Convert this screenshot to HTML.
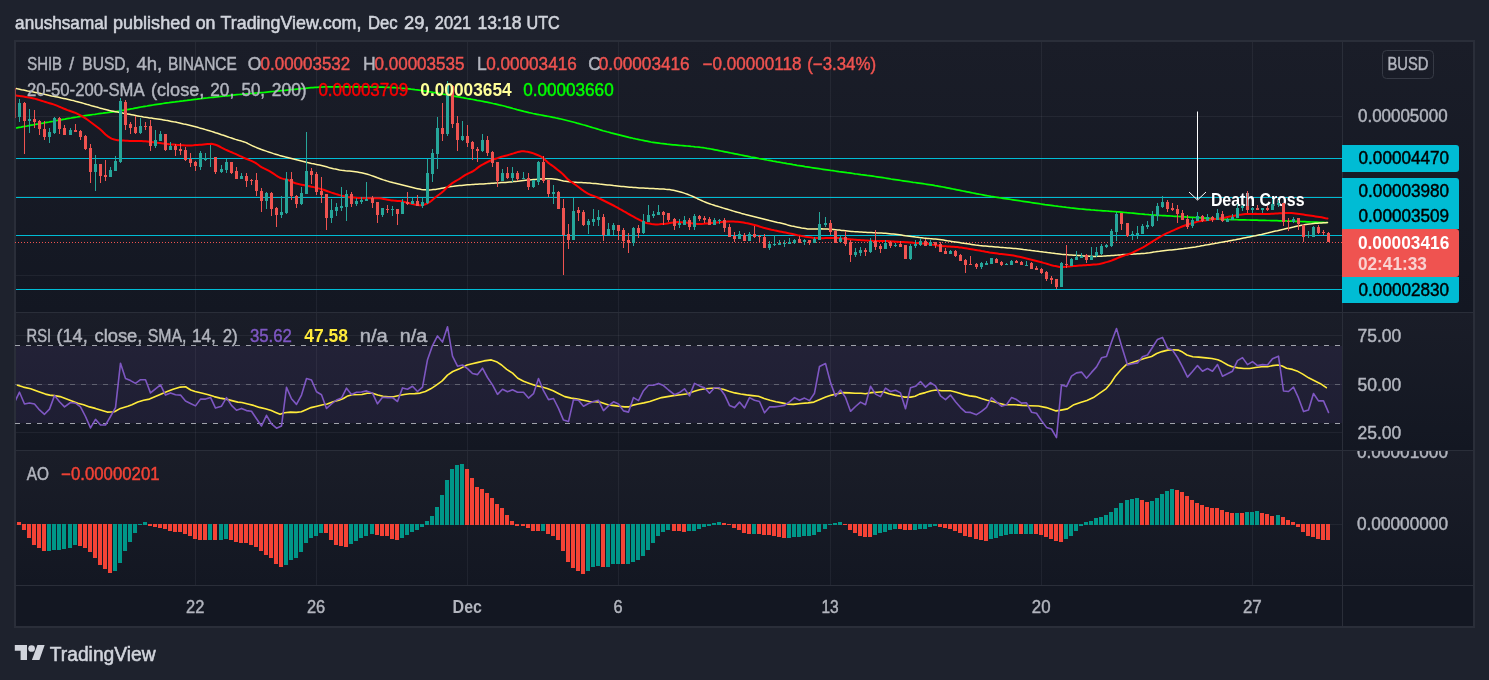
<!DOCTYPE html>
<html><head><meta charset="utf-8"><style>
html,body{margin:0;padding:0;background:#1e222d;}
svg{display:block;font-family:'Liberation Sans', Arial, sans-serif;}
</style></head><body>
<svg width="1489" height="680" viewBox="0 0 1489 680">
<rect x="0" y="0" width="1489" height="680" fill="#1e222d"/><rect x="14" y="40" width="1461" height="588" fill="#2a2e39"/><defs><linearGradient id="pg" x1="0" y1="0" x2="0" y2="1"><stop offset="0" stop-color="#1a1d28"/><stop offset="1" stop-color="#131722"/></linearGradient></defs><rect x="16" y="42" width="1457" height="584" fill="#131722"/><rect x="16" y="42" width="1457" height="270" fill="url(#pg)"/><rect x="16" y="313" width="1457" height="137" fill="url(#pg)"/><rect x="16" y="451" width="1457" height="134" fill="url(#pg)"/><line x1="195.5" y1="42" x2="195.5" y2="585" stroke="#f0f3fa" stroke-opacity="0.06" stroke-width="1"/><line x1="316.5" y1="42" x2="316.5" y2="585" stroke="#f0f3fa" stroke-opacity="0.06" stroke-width="1"/><line x1="467.5" y1="42" x2="467.5" y2="585" stroke="#f0f3fa" stroke-opacity="0.06" stroke-width="1"/><line x1="618.5" y1="42" x2="618.5" y2="585" stroke="#f0f3fa" stroke-opacity="0.06" stroke-width="1"/><line x1="830.5" y1="42" x2="830.5" y2="585" stroke="#f0f3fa" stroke-opacity="0.06" stroke-width="1"/><line x1="1041.5" y1="42" x2="1041.5" y2="585" stroke="#f0f3fa" stroke-opacity="0.06" stroke-width="1"/><line x1="1252.5" y1="42" x2="1252.5" y2="585" stroke="#f0f3fa" stroke-opacity="0.06" stroke-width="1"/><line x1="16" y1="116.5" x2="1342" y2="116.5" stroke="#f0f3fa" stroke-opacity="0.06" stroke-width="1"/><line x1="16" y1="196.5" x2="1342" y2="196.5" stroke="#f0f3fa" stroke-opacity="0.06" stroke-width="1"/><line x1="16" y1="275.5" x2="1342" y2="275.5" stroke="#f0f3fa" stroke-opacity="0.06" stroke-width="1"/><line x1="16" y1="335.5" x2="1342" y2="335.5" stroke="#f0f3fa" stroke-opacity="0.06" stroke-width="1"/><line x1="16" y1="384.5" x2="1342" y2="384.5" stroke="#f0f3fa" stroke-opacity="0.06" stroke-width="1"/><line x1="16" y1="432.5" x2="1342" y2="432.5" stroke="#f0f3fa" stroke-opacity="0.06" stroke-width="1"/><line x1="16" y1="524.5" x2="1342" y2="524.5" stroke="#f0f3fa" stroke-opacity="0.06" stroke-width="1"/><line x1="1342.5" y1="42" x2="1342.5" y2="626" stroke="#2a2e39" stroke-width="1"/><line x1="16" y1="312.5" x2="1473" y2="312.5" stroke="#2a2e39" stroke-width="1"/><line x1="16" y1="450.5" x2="1473" y2="450.5" stroke="#2a2e39" stroke-width="1"/><line x1="16" y1="585.5" x2="1473" y2="585.5" stroke="#2a2e39" stroke-width="1"/><rect x="16" y="346" width="1326" height="77" fill="#7e57c2" fill-opacity="0.1"/><line x1="15" y1="345.5" x2="1342" y2="345.5" stroke="#a0a3ab" stroke-opacity="1" stroke-width="1" stroke-dasharray="5 6"/><line x1="15" y1="384.5" x2="1342" y2="384.5" stroke="#a0a3ab" stroke-opacity="0.45" stroke-width="1" stroke-dasharray="5 6"/><line x1="15" y1="423.5" x2="1342" y2="423.5" stroke="#a0a3ab" stroke-opacity="1" stroke-width="1" stroke-dasharray="5 6"/><defs><clipPath id="cm"><rect x="16" y="42" width="1326" height="270"/></clipPath><clipPath id="cr"><rect x="16" y="313" width="1326" height="137"/></clipPath><clipPath id="ca"><rect x="16" y="451" width="1326" height="134"/></clipPath></defs><line x1="16" y1="158.5" x2="1342" y2="158.5" stroke="#00bcd4" stroke-width="1"/><line x1="16" y1="197.5" x2="1342" y2="197.5" stroke="#00bcd4" stroke-width="1"/><line x1="16" y1="235.5" x2="1342" y2="235.5" stroke="#00bcd4" stroke-width="1"/><line x1="16" y1="289.5" x2="1342" y2="289.5" stroke="#00bcd4" stroke-width="1"/><path d="M1197.5 111.5 V199.5 M1189 192 L1197.5 200 L1206 192" stroke="#fff" stroke-width="1" fill="none"/><text x="1210.9" y="205.9" font-size="17.7" fill="#fff" textLength="93.6" lengthAdjust="spacingAndGlyphs" font-weight="bold">Death Cross</text><line x1="15" y1="242.5" x2="1342" y2="242.5" stroke="#ef5350" stroke-width="1" stroke-dasharray="1 2"/><g clip-path="url(#cm)"><polyline points="15.0,128.2 17.0,127.8 19.0,127.4 21.0,127.1 23.0,126.7 25.0,126.3 27.0,126.0 29.0,125.6 31.0,125.2 33.0,124.9 35.0,124.5 37.0,124.1 39.0,123.8 41.0,123.4 43.0,123.1 45.0,122.7 47.0,122.3 49.0,122.0 51.0,121.6 53.0,121.3 55.0,120.9 57.0,120.5 59.0,120.2 61.0,119.8 63.0,119.4 65.0,119.1 67.0,118.7 69.0,118.3 71.0,118.0 73.0,117.6 75.0,117.3 77.0,117.0 79.0,116.6 81.0,116.3 83.0,116.0 85.0,115.7 87.0,115.4 89.0,115.1 91.0,114.8 93.0,114.5 95.0,114.3 97.0,114.0 99.0,113.7 101.0,113.4 103.0,113.2 105.0,112.9 107.0,112.7 109.0,112.4 111.0,112.1 113.0,111.8 115.0,111.6 117.0,111.3 119.0,111.0 121.0,110.7 123.0,110.3 125.0,110.0 127.0,109.7 129.0,109.3 131.0,108.9 133.0,108.6 135.0,108.2 137.0,107.8 139.0,107.4 141.0,107.0 143.0,106.7 145.0,106.3 147.0,106.0 149.0,105.6 151.0,105.3 153.0,105.0 155.0,104.7 157.0,104.4 159.0,104.1 161.0,103.8 163.0,103.5 165.0,103.2 167.0,102.9 169.0,102.7 171.0,102.4 173.0,102.1 175.0,101.9 177.0,101.6 179.0,101.4 181.0,101.1 183.0,100.9 185.0,100.6 187.0,100.4 189.0,100.1 191.0,99.9 193.0,99.6 195.0,99.4 197.0,99.2 199.0,98.9 201.0,98.7 203.0,98.4 205.0,98.2 207.0,98.0 209.0,97.7 211.0,97.5 213.0,97.3 215.0,97.1 217.0,96.9 219.0,96.6 221.0,96.4 223.0,96.2 225.0,96.0 227.0,95.8 229.0,95.6 231.0,95.4 233.0,95.2 235.0,94.9 237.0,94.7 239.0,94.5 241.0,94.3 243.0,94.1 245.0,94.0 247.0,93.8 249.0,93.6 251.0,93.5 253.0,93.3 255.0,93.1 257.0,93.0 259.0,92.8 261.0,92.6 263.0,92.5 265.0,92.3 267.0,92.1 269.0,91.9 271.0,91.7 273.0,91.5 275.0,91.3 277.0,91.1 279.0,90.9 281.0,90.7 283.0,90.5 285.0,90.3 287.0,90.1 289.0,89.9 291.0,89.7 293.0,89.5 295.0,89.3 297.0,89.1 299.0,88.9 301.0,88.7 303.0,88.5 305.0,88.3 307.0,88.1 309.0,87.9 311.0,87.7 313.0,87.6 315.0,87.4 317.0,87.3 319.0,87.2 321.0,87.1 323.0,87.0 325.0,86.9 327.0,86.9 329.0,86.8 331.0,86.8 333.0,86.8 335.0,86.8 337.0,86.8 339.0,86.8 341.0,86.8 343.0,86.8 345.0,86.8 347.0,86.8 349.0,86.8 351.0,86.8 353.0,86.8 355.0,86.8 357.0,86.8 359.0,86.8 361.0,86.8 363.0,86.8 365.0,86.8 367.0,86.9 369.0,86.9 371.0,86.9 373.0,87.0 375.0,87.0 377.0,87.0 379.0,87.1 381.0,87.1 383.0,87.2 385.0,87.3 387.0,87.3 389.0,87.4 391.0,87.5 393.0,87.6 395.0,87.7 397.0,87.9 399.0,88.0 401.0,88.2 403.0,88.3 405.0,88.5 407.0,88.7 409.0,88.9 411.0,89.2 413.0,89.4 415.0,89.7 417.0,89.9 419.0,90.2 421.0,90.5 423.0,90.8 425.0,91.1 427.0,91.4 429.0,91.7 431.0,92.0 433.0,92.4 435.0,92.7 437.0,93.1 439.0,93.4 441.0,93.8 443.0,94.1 445.0,94.5 447.0,94.8 449.0,95.2 451.0,95.6 453.0,95.9 455.0,96.3 457.0,96.7 459.0,97.0 461.0,97.4 463.0,97.7 465.0,98.1 467.0,98.5 469.0,98.8 471.0,99.2 473.0,99.5 475.0,99.9 477.0,100.3 479.0,100.6 481.0,101.0 483.0,101.4 485.0,101.8 487.0,102.2 489.0,102.6 491.0,103.0 493.0,103.5 495.0,103.9 497.0,104.4 499.0,104.9 501.0,105.3 503.0,105.8 505.0,106.3 507.0,106.9 509.0,107.4 511.0,107.9 513.0,108.5 515.0,109.0 517.0,109.6 519.0,110.1 521.0,110.6 523.0,111.1 525.0,111.7 527.0,112.1 529.0,112.6 531.0,113.0 533.0,113.5 535.0,113.9 537.0,114.3 539.0,114.7 541.0,115.0 543.0,115.4 545.0,115.8 547.0,116.2 549.0,116.5 551.0,116.9 553.0,117.3 555.0,117.7 557.0,118.2 559.0,118.6 561.0,119.0 563.0,119.5 565.0,120.0 567.0,120.5 569.0,121.0 571.0,121.5 573.0,122.0 575.0,122.5 577.0,123.1 579.0,123.6 581.0,124.2 583.0,124.8 585.0,125.3 587.0,125.9 589.0,126.5 591.0,127.1 593.0,127.7 595.0,128.3 597.0,128.9 599.0,129.5 601.0,130.1 603.0,130.7 605.0,131.2 607.0,131.8 609.0,132.3 611.0,132.9 613.0,133.4 615.0,133.9 617.0,134.4 619.0,134.9 621.0,135.4 623.0,135.9 625.0,136.4 627.0,136.9 629.0,137.4 631.0,137.8 633.0,138.3 635.0,138.7 637.0,139.2 639.0,139.6 641.0,140.0 643.0,140.4 645.0,140.8 647.0,141.2 649.0,141.6 651.0,142.0 653.0,142.3 655.0,142.6 657.0,142.9 659.0,143.2 661.0,143.5 663.0,143.7 665.0,143.9 667.0,144.2 669.0,144.4 671.0,144.6 673.0,144.8 675.0,144.9 677.0,145.1 679.0,145.3 681.0,145.5 683.0,145.6 685.0,145.8 687.0,146.0 689.0,146.2 691.0,146.4 693.0,146.5 695.0,146.8 697.0,147.0 699.0,147.2 701.0,147.5 703.0,147.7 705.0,148.0 707.0,148.4 709.0,148.7 711.0,149.0 713.0,149.4 715.0,149.8 717.0,150.2 719.0,150.6 721.0,151.0 723.0,151.4 725.0,151.8 727.0,152.2 729.0,152.6 731.0,153.0 733.0,153.4 735.0,153.8 737.0,154.2 739.0,154.6 741.0,155.0 743.0,155.4 745.0,155.8 747.0,156.2 749.0,156.6 751.0,157.0 753.0,157.3 755.0,157.7 757.0,158.1 759.0,158.5 761.0,158.8 763.0,159.2 765.0,159.6 767.0,160.0 769.0,160.3 771.0,160.7 773.0,161.1 775.0,161.4 777.0,161.8 779.0,162.1 781.0,162.5 783.0,162.9 785.0,163.2 787.0,163.6 789.0,163.9 791.0,164.2 793.0,164.6 795.0,164.9 797.0,165.3 799.0,165.6 801.0,165.9 803.0,166.2 805.0,166.6 807.0,166.9 809.0,167.2 811.0,167.5 813.0,167.8 815.0,168.1 817.0,168.4 819.0,168.7 821.0,169.0 823.0,169.3 825.0,169.6 827.0,169.9 829.0,170.2 831.0,170.5 833.0,170.7 835.0,171.0 837.0,171.3 839.0,171.6 841.0,171.8 843.0,172.1 845.0,172.4 847.0,172.7 849.0,172.9 851.0,173.2 853.0,173.5 855.0,173.8 857.0,174.0 859.0,174.3 861.0,174.6 863.0,174.8 865.0,175.1 867.0,175.4 869.0,175.6 871.0,175.9 873.0,176.2 875.0,176.5 877.0,176.8 879.0,177.1 881.0,177.4 883.0,177.7 885.0,178.0 887.0,178.3 889.0,178.6 891.0,179.0 893.0,179.3 895.0,179.6 897.0,179.9 899.0,180.2 901.0,180.5 903.0,180.8 905.0,181.1 907.0,181.4 909.0,181.7 911.0,182.0 913.0,182.3 915.0,182.5 917.0,182.8 919.0,183.1 921.0,183.4 923.0,183.7 925.0,184.0 927.0,184.3 929.0,184.6 931.0,184.9 933.0,185.2 935.0,185.6 937.0,185.9 939.0,186.3 941.0,186.7 943.0,187.0 945.0,187.4 947.0,187.8 949.0,188.2 951.0,188.6 953.0,189.0 955.0,189.4 957.0,189.8 959.0,190.2 961.0,190.6 963.0,191.0 965.0,191.4 967.0,191.8 969.0,192.2 971.0,192.6 973.0,193.0 975.0,193.4 977.0,193.8 979.0,194.2 981.0,194.5 983.0,194.9 985.0,195.3 987.0,195.7 989.0,196.0 991.0,196.4 993.0,196.7 995.0,197.0 997.0,197.3 999.0,197.7 1001.0,198.0 1003.0,198.3 1005.0,198.6 1007.0,198.9 1009.0,199.2 1011.0,199.5 1013.0,199.8 1015.0,200.1 1017.0,200.4 1019.0,200.7 1021.0,201.0 1023.0,201.3 1025.0,201.6 1027.0,201.9 1029.0,202.2 1031.0,202.5 1033.0,202.8 1035.0,203.1 1037.0,203.4 1039.0,203.7 1041.0,204.0 1043.0,204.3 1045.0,204.6 1047.0,204.8 1049.0,205.1 1051.0,205.4 1053.0,205.7 1055.0,206.0 1057.0,206.2 1059.0,206.5 1061.0,206.7 1063.0,207.0 1065.0,207.2 1067.0,207.5 1069.0,207.7 1071.0,208.0 1073.0,208.2 1075.0,208.4 1077.0,208.6 1079.0,208.8 1081.0,209.0 1083.0,209.2 1085.0,209.4 1087.0,209.6 1089.0,209.7 1091.0,209.9 1093.0,210.0 1095.0,210.2 1097.0,210.3 1099.0,210.5 1101.0,210.6 1103.0,210.8 1105.0,210.9 1107.0,211.0 1109.0,211.2 1111.0,211.3 1113.0,211.5 1115.0,211.6 1117.0,211.8 1119.0,211.9 1121.0,212.1 1123.0,212.3 1125.0,212.5 1127.0,212.7 1129.0,212.8 1131.0,213.0 1133.0,213.2 1135.0,213.4 1137.0,213.6 1139.0,213.8 1141.0,214.0 1143.0,214.2 1145.0,214.4 1147.0,214.5 1149.0,214.7 1151.0,214.8 1153.0,215.0 1155.0,215.1 1157.0,215.3 1159.0,215.4 1161.0,215.5 1163.0,215.6 1165.0,215.7 1167.0,215.8 1169.0,215.9 1171.0,216.0 1173.0,216.2 1175.0,216.3 1177.0,216.4 1179.0,216.5 1181.0,216.7 1183.0,216.8 1185.0,216.9 1187.0,217.1 1189.0,217.2 1191.0,217.3 1193.0,217.4 1195.0,217.5 1197.0,217.6 1199.0,217.7 1201.0,217.8 1203.0,217.9 1205.0,218.1 1207.0,218.2 1209.0,218.3 1211.0,218.5 1213.0,218.6 1215.0,218.8 1217.0,218.9 1219.0,219.0 1221.0,219.1 1223.0,219.2 1225.0,219.3 1227.0,219.4 1229.0,219.5 1231.0,219.6 1233.0,219.6 1235.0,219.7 1237.0,219.7 1239.0,219.8 1241.0,219.8 1243.0,219.9 1245.0,219.9 1247.0,220.0 1249.0,220.0 1251.0,220.1 1253.0,220.1 1255.0,220.2 1257.0,220.2 1259.0,220.3 1261.0,220.3 1263.0,220.4 1265.0,220.4 1267.0,220.5 1269.0,220.5 1271.0,220.6 1273.0,220.6 1275.0,220.7 1277.0,220.7 1279.0,220.8 1281.0,220.8 1283.0,220.9 1285.0,220.9 1287.0,221.0 1289.0,221.1 1291.0,221.1 1293.0,221.2 1295.0,221.3 1297.0,221.4 1299.0,221.4 1301.0,221.5 1303.0,221.6 1305.0,221.7 1307.0,221.8 1309.0,221.9 1311.0,222.0 1313.0,222.0 1315.0,222.1 1317.0,222.2 1319.0,222.3 1321.0,222.3 1323.0,222.4 1325.0,222.5 1327.0,222.5" fill="none" stroke="#00ff00" stroke-width="1.7" stroke-linejoin="round" stroke-linecap="round"/><polyline points="15.5,88.3 17.5,88.8 19.5,89.2 21.5,89.7 23.5,90.1 25.5,90.5 27.5,90.9 29.5,91.2 31.5,91.6 33.5,92.0 35.5,92.4 37.5,92.8 39.5,93.2 41.5,93.7 43.5,94.1 45.5,94.6 47.5,95.0 49.5,95.4 51.5,95.9 53.5,96.3 55.5,96.7 57.5,97.1 59.5,97.5 61.5,98.0 63.5,98.4 65.5,98.8 67.5,99.2 69.5,99.7 71.5,100.2 73.5,100.6 75.5,101.2 77.5,101.7 79.5,102.3 81.5,102.8 83.5,103.4 85.5,104.0 87.5,104.6 89.5,105.1 91.5,105.7 93.5,106.2 95.5,106.8 97.5,107.3 99.5,107.9 101.5,108.4 103.5,109.0 105.5,109.5 107.5,110.0 109.5,110.5 111.5,110.9 113.5,111.3 115.5,111.7 117.5,112.1 119.5,112.5 121.5,112.8 123.5,113.2 125.5,113.5 127.5,113.9 129.5,114.3 131.5,114.7 133.5,115.1 135.5,115.5 137.5,115.9 139.5,116.3 141.5,116.6 143.5,117.0 145.5,117.3 147.5,117.6 149.5,117.9 151.5,118.1 153.5,118.4 155.5,118.7 157.5,119.0 159.5,119.3 161.5,119.6 163.5,119.9 165.5,120.3 167.5,120.6 169.5,121.0 171.5,121.4 173.5,121.8 175.5,122.1 177.5,122.6 179.5,123.0 181.5,123.4 183.5,123.9 185.5,124.3 187.5,124.8 189.5,125.3 191.5,125.8 193.5,126.3 195.5,126.8 197.5,127.3 199.5,127.9 201.5,128.4 203.5,129.0 205.5,129.6 207.5,130.2 209.5,130.8 211.5,131.4 213.5,132.0 215.5,132.7 217.5,133.3 219.5,134.0 221.5,134.7 223.5,135.3 225.5,136.0 227.5,136.7 229.5,137.4 231.5,138.0 233.5,138.7 235.5,139.4 237.5,140.0 239.5,140.6 241.5,141.1 243.5,141.7 245.5,142.4 247.5,143.3 249.5,144.3 251.5,145.3 253.5,146.3 255.5,147.1 257.5,148.0 259.5,148.7 261.5,149.5 263.5,150.2 265.5,150.9 267.5,151.6 269.5,152.3 271.5,152.9 273.5,153.6 275.5,154.2 277.5,154.8 279.5,155.4 281.5,155.9 283.5,156.4 285.5,157.0 287.5,157.5 289.5,158.0 291.5,158.5 293.5,159.0 295.5,159.5 297.5,160.0 299.5,160.5 301.5,161.0 303.5,161.5 305.5,162.0 307.5,162.5 309.5,162.9 311.5,163.4 313.5,163.8 315.5,164.3 317.5,164.7 319.5,165.1 321.5,165.6 323.5,166.1 325.5,166.6 327.5,167.1 329.5,167.7 331.5,168.2 333.5,168.7 335.5,169.1 337.5,169.5 339.5,169.9 341.5,170.2 343.5,170.4 345.5,170.7 347.5,170.9 349.5,171.1 351.5,171.3 353.5,171.5 355.5,171.8 357.5,172.1 359.5,172.4 361.5,172.8 363.5,173.3 365.5,173.8 367.5,174.3 369.5,174.9 371.5,175.6 373.5,176.3 375.5,177.0 377.5,177.8 379.5,178.5 381.5,179.2 383.5,179.9 385.5,180.5 387.5,181.1 389.5,181.7 391.5,182.2 393.5,182.8 395.5,183.3 397.5,183.8 399.5,184.3 401.5,184.8 403.5,185.3 405.5,185.8 407.5,186.3 409.5,186.8 411.5,187.3 413.5,187.8 415.5,188.3 417.5,188.7 419.5,189.1 421.5,189.5 423.5,189.7 425.5,189.8 427.5,189.9 429.5,189.9 431.5,189.8 433.5,189.6 435.5,189.4 437.5,189.1 439.5,188.7 441.5,188.3 443.5,187.9 445.5,187.5 447.5,187.2 449.5,186.8 451.5,186.5 453.5,186.3 455.5,186.0 457.5,185.8 459.5,185.6 461.5,185.4 463.5,185.2 465.5,185.0 467.5,184.8 469.5,184.7 471.5,184.6 473.5,184.4 475.5,184.3 477.5,184.2 479.5,184.1 481.5,184.0 483.5,183.9 485.5,183.7 487.5,183.6 489.5,183.4 491.5,183.3 493.5,183.2 495.5,183.0 497.5,182.9 499.5,182.8 501.5,182.6 503.5,182.5 505.5,182.4 507.5,182.2 509.5,182.0 511.5,181.9 513.5,181.6 515.5,181.4 517.5,181.2 519.5,180.9 521.5,180.7 523.5,180.5 525.5,180.3 527.5,180.1 529.5,179.9 531.5,179.7 533.5,179.5 535.5,179.4 537.5,179.2 539.5,179.1 541.5,179.0 543.5,178.9 545.5,178.8 547.5,178.8 549.5,178.8 551.5,178.8 553.5,179.0 555.5,179.3 557.5,179.6 559.5,180.0 561.5,180.5 563.5,180.9 565.5,181.2 567.5,181.5 569.5,181.8 571.5,182.0 573.5,182.2 575.5,182.3 577.5,182.5 579.5,182.6 581.5,182.6 583.5,182.7 585.5,182.8 587.5,183.0 589.5,183.1 591.5,183.3 593.5,183.4 595.5,183.6 597.5,183.8 599.5,184.1 601.5,184.3 603.5,184.5 605.5,184.7 607.5,184.9 609.5,185.1 611.5,185.3 613.5,185.6 615.5,185.8 617.5,186.0 619.5,186.2 621.5,186.5 623.5,186.6 625.5,186.8 627.5,187.0 629.5,187.2 631.5,187.3 633.5,187.5 635.5,187.6 637.5,187.7 639.5,187.9 641.5,188.0 643.5,188.1 645.5,188.2 647.5,188.3 649.5,188.4 651.5,188.5 653.5,188.6 655.5,188.7 657.5,188.8 659.5,188.9 661.5,189.0 663.5,189.1 665.5,189.3 667.5,189.4 669.5,189.6 671.5,189.9 673.5,190.3 675.5,190.7 677.5,191.2 679.5,191.7 681.5,192.3 683.5,192.9 685.5,193.6 687.5,194.3 689.5,195.1 691.5,195.9 693.5,196.8 695.5,197.7 697.5,198.7 699.5,199.6 701.5,200.5 703.5,201.4 705.5,202.2 707.5,203.0 709.5,203.7 711.5,204.4 713.5,205.0 715.5,205.7 717.5,206.3 719.5,206.9 721.5,207.5 723.5,208.1 725.5,208.7 727.5,209.3 729.5,209.9 731.5,210.5 733.5,211.1 735.5,211.7 737.5,212.3 739.5,212.8 741.5,213.4 743.5,213.9 745.5,214.5 747.5,215.0 749.5,215.5 751.5,216.0 753.5,216.5 755.5,217.0 757.5,217.5 759.5,218.0 761.5,218.5 763.5,219.0 765.5,219.5 767.5,220.0 769.5,220.5 771.5,220.9 773.5,221.4 775.5,221.9 777.5,222.4 779.5,222.8 781.5,223.3 783.5,223.8 785.5,224.3 787.5,224.9 789.5,225.4 791.5,225.9 793.5,226.3 795.5,226.8 797.5,227.2 799.5,227.6 801.5,228.0 803.5,228.3 805.5,228.6 807.5,228.9 809.5,229.0 811.5,229.1 813.5,229.0 815.5,229.0 817.5,228.9 819.5,228.9 821.5,228.8 823.5,228.9 825.5,228.9 827.5,229.0 829.5,229.2 831.5,229.3 833.5,229.5 835.5,229.7 837.5,229.9 839.5,230.1 841.5,230.4 843.5,230.6 845.5,230.8 847.5,231.0 849.5,231.2 851.5,231.4 853.5,231.6 855.5,231.7 857.5,231.8 859.5,232.0 861.5,232.1 863.5,232.2 865.5,232.3 867.5,232.4 869.5,232.5 871.5,232.6 873.5,232.7 875.5,232.8 877.5,232.9 879.5,233.0 881.5,233.1 883.5,233.2 885.5,233.3 887.5,233.5 889.5,233.7 891.5,233.9 893.5,234.1 895.5,234.3 897.5,234.5 899.5,234.8 901.5,235.1 903.5,235.4 905.5,235.7 907.5,235.9 909.5,236.2 911.5,236.5 913.5,236.7 915.5,237.0 917.5,237.2 919.5,237.5 921.5,237.7 923.5,238.0 925.5,238.2 927.5,238.4 929.5,238.6 931.5,238.7 933.5,238.9 935.5,239.1 937.5,239.3 939.5,239.5 941.5,239.8 943.5,240.1 945.5,240.4 947.5,240.8 949.5,241.1 951.5,241.4 953.5,241.7 955.5,242.0 957.5,242.3 959.5,242.6 961.5,242.9 963.5,243.2 965.5,243.5 967.5,243.8 969.5,244.1 971.5,244.4 973.5,244.7 975.5,245.0 977.5,245.2 979.5,245.5 981.5,245.7 983.5,245.9 985.5,246.1 987.5,246.3 989.5,246.5 991.5,246.6 993.5,246.8 995.5,247.0 997.5,247.1 999.5,247.3 1001.5,247.4 1003.5,247.6 1005.5,247.7 1007.5,247.9 1009.5,248.0 1011.5,248.2 1013.5,248.4 1015.5,248.6 1017.5,248.8 1019.5,249.0 1021.5,249.2 1023.5,249.5 1025.5,249.7 1027.5,250.0 1029.5,250.2 1031.5,250.5 1033.5,250.7 1035.5,251.0 1037.5,251.2 1039.5,251.5 1041.5,251.7 1043.5,252.0 1045.5,252.2 1047.5,252.5 1049.5,252.7 1051.5,253.0 1053.5,253.2 1055.5,253.5 1057.5,253.7 1059.5,253.9 1061.5,254.2 1063.5,254.4 1065.5,254.6 1067.5,254.7 1069.5,254.9 1071.5,255.0 1073.5,255.2 1075.5,255.3 1077.5,255.5 1079.5,255.6 1081.5,255.8 1083.5,255.9 1085.5,256.0 1087.5,256.1 1089.5,256.2 1091.5,256.3 1093.5,256.4 1095.5,256.4 1097.5,256.3 1099.5,256.3 1101.5,256.2 1103.5,256.1 1105.5,255.9 1107.5,255.8 1109.5,255.7 1111.5,255.5 1113.5,255.4 1115.5,255.2 1117.5,255.1 1119.5,254.9 1121.5,254.8 1123.5,254.6 1125.5,254.5 1127.5,254.4 1129.5,254.3 1131.5,254.2 1133.5,254.0 1135.5,253.9 1137.5,253.8 1139.5,253.7 1141.5,253.5 1143.5,253.4 1145.5,253.2 1147.5,252.9 1149.5,252.7 1151.5,252.4 1153.5,252.1 1155.5,251.8 1157.5,251.4 1159.5,251.2 1161.5,250.9 1163.5,250.7 1165.5,250.5 1167.5,250.3 1169.5,250.1 1171.5,249.9 1173.5,249.7 1175.5,249.5 1177.5,249.3 1179.5,249.0 1181.5,248.8 1183.5,248.6 1185.5,248.3 1187.5,248.1 1189.5,247.8 1191.5,247.5 1193.5,247.2 1195.5,246.9 1197.5,246.5 1199.5,246.2 1201.5,245.8 1203.5,245.5 1205.5,245.1 1207.5,244.8 1209.5,244.4 1211.5,244.0 1213.5,243.7 1215.5,243.3 1217.5,243.0 1219.5,242.6 1221.5,242.3 1223.5,241.9 1225.5,241.5 1227.5,241.2 1229.5,240.8 1231.5,240.4 1233.5,240.0 1235.5,239.7 1237.5,239.3 1239.5,238.9 1241.5,238.5 1243.5,238.1 1245.5,237.7 1247.5,237.3 1249.5,236.9 1251.5,236.5 1253.5,236.1 1255.5,235.7 1257.5,235.2 1259.5,234.8 1261.5,234.4 1263.5,233.9 1265.5,233.4 1267.5,233.0 1269.5,232.5 1271.5,232.1 1273.5,231.6 1275.5,231.1 1277.5,230.7 1279.5,230.2 1281.5,229.7 1283.5,229.3 1285.5,228.8 1287.5,228.3 1289.5,227.9 1291.5,227.4 1293.5,227.0 1295.5,226.5 1297.5,226.1 1299.5,225.7 1301.5,225.3 1303.5,225.0 1305.5,224.6 1307.5,224.3 1309.5,224.0 1311.5,223.8 1313.5,223.5 1315.5,223.3 1317.5,223.2 1319.5,223.0 1321.5,222.9 1323.5,222.8 1325.5,222.7 1327.5,222.6" fill="none" stroke="#fff59d" stroke-width="1.5" stroke-linejoin="round" stroke-linecap="round"/><polyline points="15.5,95.4 17.5,95.7 19.5,96.0 21.5,96.3 23.5,96.6 25.5,96.9 27.5,97.3 29.5,97.6 31.5,98.0 33.5,98.4 35.5,98.9 37.5,99.5 39.5,100.1 41.5,100.8 43.5,101.4 45.5,102.0 47.5,102.6 49.5,103.2 51.5,103.8 53.5,104.4 55.5,105.1 57.5,105.9 59.5,106.8 61.5,107.6 63.5,108.5 65.5,109.3 67.5,110.1 69.5,110.8 71.5,111.5 73.5,112.2 75.5,112.9 77.5,113.9 79.5,114.9 81.5,116.0 83.5,117.1 85.5,118.4 87.5,119.8 89.5,121.3 91.5,122.7 93.5,124.2 95.5,125.7 97.5,127.2 99.5,128.8 101.5,130.5 103.5,132.5 105.5,134.4 107.5,136.1 109.5,137.4 111.5,138.6 113.5,139.3 115.5,139.8 117.5,140.2 119.5,140.3 121.5,140.5 123.5,140.6 125.5,140.7 127.5,140.8 129.5,140.9 131.5,141.1 133.5,141.1 135.5,141.0 137.5,140.9 139.5,140.9 141.5,141.0 143.5,141.2 145.5,141.3 147.5,141.5 149.5,141.7 151.5,141.9 153.5,142.2 155.5,142.4 157.5,142.7 159.5,142.9 161.5,143.2 163.5,143.4 165.5,143.7 167.5,143.9 169.5,144.2 171.5,144.4 173.5,144.6 175.5,144.8 177.5,145.0 179.5,145.1 181.5,145.3 183.5,145.3 185.5,145.4 187.5,145.4 189.5,145.4 191.5,145.4 193.5,145.3 195.5,145.1 197.5,145.0 199.5,144.8 201.5,144.7 203.5,144.5 205.5,144.3 207.5,144.1 209.5,143.9 211.5,143.8 213.5,144.2 215.5,144.8 217.5,145.5 219.5,146.5 221.5,147.6 223.5,148.6 225.5,149.6 227.5,150.5 229.5,151.4 231.5,152.2 233.5,153.1 235.5,153.9 237.5,154.8 239.5,155.8 241.5,156.7 243.5,157.6 245.5,158.5 247.5,159.3 249.5,160.1 251.5,160.9 253.5,161.8 255.5,162.9 257.5,164.3 259.5,165.8 261.5,167.1 263.5,168.2 265.5,169.1 267.5,170.1 269.5,171.1 271.5,172.3 273.5,173.6 275.5,175.0 277.5,176.3 279.5,177.5 281.5,178.4 283.5,178.9 285.5,179.3 287.5,179.8 289.5,180.6 291.5,181.6 293.5,182.5 295.5,183.2 297.5,183.8 299.5,184.3 301.5,184.7 303.5,185.1 305.5,185.5 307.5,185.9 309.5,186.3 311.5,186.7 313.5,187.1 315.5,187.6 317.5,188.1 319.5,188.6 321.5,189.2 323.5,189.8 325.5,190.5 327.5,191.2 329.5,191.9 331.5,192.6 333.5,193.2 335.5,193.9 337.5,194.5 339.5,195.1 341.5,195.6 343.5,196.1 345.5,196.5 347.5,196.9 349.5,197.2 351.5,197.4 353.5,197.6 355.5,197.8 357.5,198.0 359.5,198.1 361.5,198.2 363.5,198.2 365.5,198.2 367.5,198.3 369.5,198.3 371.5,198.3 373.5,198.3 375.5,198.3 377.5,198.3 379.5,198.3 381.5,198.5 383.5,198.9 385.5,199.3 387.5,199.7 389.5,200.1 391.5,200.4 393.5,200.6 395.5,200.7 397.5,200.9 399.5,201.1 401.5,201.3 403.5,201.8 405.5,202.3 407.5,202.8 409.5,203.3 411.5,203.8 413.5,204.3 415.5,204.8 417.5,205.1 419.5,205.2 421.5,205.2 423.5,204.9 425.5,204.2 427.5,203.3 429.5,202.2 431.5,200.7 433.5,199.0 435.5,197.2 437.5,195.7 439.5,194.3 441.5,192.8 443.5,191.0 445.5,189.0 447.5,186.9 449.5,185.2 451.5,183.7 453.5,182.4 455.5,181.2 457.5,180.0 459.5,178.8 461.5,177.5 463.5,176.2 465.5,174.9 467.5,173.8 469.5,172.9 471.5,172.0 473.5,170.9 475.5,169.5 477.5,167.9 479.5,166.4 481.5,165.2 483.5,164.1 485.5,163.0 487.5,162.0 489.5,161.0 491.5,160.1 493.5,159.4 495.5,158.7 497.5,158.1 499.5,157.4 501.5,156.8 503.5,156.3 505.5,155.7 507.5,155.2 509.5,154.6 511.5,154.0 513.5,153.4 515.5,152.7 517.5,152.1 519.5,151.7 521.5,151.3 523.5,151.3 525.5,151.6 527.5,151.8 529.5,152.2 531.5,152.7 533.5,153.4 535.5,154.2 537.5,155.0 539.5,155.9 541.5,156.9 543.5,158.4 545.5,160.3 547.5,162.1 549.5,163.7 551.5,165.1 553.5,166.5 555.5,168.1 557.5,169.7 559.5,171.3 561.5,172.9 563.5,174.8 565.5,176.9 567.5,179.0 569.5,180.6 571.5,182.0 573.5,183.4 575.5,184.8 577.5,186.3 579.5,187.8 581.5,189.4 583.5,190.8 585.5,192.1 587.5,193.3 589.5,194.4 591.5,195.2 593.5,195.9 595.5,196.6 597.5,197.5 599.5,198.5 601.5,199.5 603.5,200.5 605.5,201.5 607.5,202.5 609.5,203.5 611.5,204.5 613.5,205.5 615.5,206.6 617.5,207.6 619.5,208.8 621.5,209.9 623.5,211.1 625.5,212.2 627.5,213.4 629.5,214.5 631.5,215.6 633.5,216.7 635.5,217.8 637.5,218.8 639.5,219.9 641.5,220.9 643.5,221.8 645.5,222.7 647.5,223.2 649.5,223.5 651.5,223.9 653.5,224.2 655.5,224.5 657.5,224.4 659.5,224.3 661.5,224.1 663.5,223.9 665.5,223.7 667.5,223.4 669.5,223.1 671.5,222.8 673.5,222.5 675.5,222.3 677.5,222.1 679.5,222.2 681.5,222.3 683.5,222.5 685.5,222.6 687.5,222.8 689.5,223.0 691.5,223.2 693.5,223.5 695.5,223.7 697.5,223.9 699.5,224.0 701.5,223.9 703.5,223.8 705.5,223.6 707.5,223.4 709.5,223.2 711.5,223.0 713.5,222.8 715.5,222.6 717.5,222.4 719.5,222.2 721.5,222.1 723.5,221.9 725.5,221.7 727.5,221.5 729.5,221.5 731.5,221.5 733.5,221.6 735.5,221.7 737.5,221.8 739.5,222.0 741.5,222.3 743.5,222.6 745.5,223.0 747.5,223.3 749.5,223.7 751.5,224.2 753.5,224.7 755.5,225.2 757.5,225.8 759.5,226.5 761.5,227.1 763.5,227.7 765.5,228.2 767.5,228.7 769.5,229.2 771.5,229.7 773.5,230.1 775.5,230.6 777.5,231.0 779.5,231.4 781.5,231.8 783.5,232.2 785.5,232.6 787.5,233.0 789.5,233.4 791.5,233.8 793.5,234.2 795.5,234.7 797.5,235.2 799.5,235.6 801.5,236.0 803.5,236.3 805.5,236.7 807.5,237.0 809.5,237.3 811.5,237.6 813.5,237.9 815.5,238.0 817.5,238.1 819.5,238.2 821.5,238.3 823.5,238.2 825.5,238.1 827.5,238.0 829.5,237.9 831.5,237.9 833.5,237.9 835.5,238.0 837.5,238.1 839.5,238.3 841.5,238.4 843.5,238.6 845.5,238.8 847.5,239.0 849.5,239.2 851.5,239.4 853.5,239.6 855.5,239.7 857.5,239.9 859.5,240.0 861.5,240.2 863.5,240.3 865.5,240.5 867.5,240.6 869.5,240.7 871.5,240.8 873.5,240.9 875.5,240.9 877.5,241.0 879.5,241.0 881.5,241.0 883.5,241.0 885.5,241.0 887.5,241.1 889.5,241.2 891.5,241.4 893.5,241.5 895.5,241.7 897.5,241.8 899.5,241.9 901.5,242.0 903.5,242.1 905.5,242.2 907.5,242.3 909.5,242.5 911.5,242.6 913.5,242.8 915.5,242.9 917.5,243.1 919.5,243.2 921.5,243.4 923.5,243.5 925.5,243.7 927.5,243.8 929.5,244.1 931.5,244.5 933.5,244.8 935.5,245.2 937.5,245.5 939.5,245.8 941.5,246.0 943.5,246.2 945.5,246.3 947.5,246.5 949.5,246.6 951.5,246.7 953.5,246.8 955.5,246.9 957.5,247.1 959.5,247.4 961.5,247.6 963.5,247.9 965.5,248.2 967.5,248.6 969.5,248.9 971.5,249.2 973.5,249.6 975.5,249.9 977.5,250.3 979.5,250.6 981.5,251.0 983.5,251.3 985.5,251.7 987.5,252.0 989.5,252.4 991.5,252.7 993.5,253.0 995.5,253.3 997.5,253.6 999.5,253.9 1001.5,254.1 1003.5,254.3 1005.5,254.5 1007.5,254.7 1009.5,254.9 1011.5,255.2 1013.5,255.6 1015.5,256.0 1017.5,256.4 1019.5,256.8 1021.5,257.3 1023.5,257.8 1025.5,258.3 1027.5,258.8 1029.5,259.3 1031.5,259.8 1033.5,260.3 1035.5,260.8 1037.5,261.3 1039.5,261.8 1041.5,262.3 1043.5,262.9 1045.5,263.4 1047.5,264.0 1049.5,264.6 1051.5,265.2 1053.5,265.7 1055.5,266.1 1057.5,266.5 1059.5,266.9 1061.5,267.0 1063.5,266.9 1065.5,266.8 1067.5,266.6 1069.5,266.5 1071.5,266.3 1073.5,266.1 1075.5,265.9 1077.5,265.7 1079.5,265.5 1081.5,265.4 1083.5,265.3 1085.5,265.2 1087.5,265.1 1089.5,265.0 1091.5,264.8 1093.5,264.6 1095.5,264.4 1097.5,264.2 1099.5,263.9 1101.5,263.5 1103.5,263.0 1105.5,262.4 1107.5,261.9 1109.5,261.3 1111.5,260.6 1113.5,259.8 1115.5,259.0 1117.5,258.1 1119.5,257.3 1121.5,256.5 1123.5,255.8 1125.5,255.1 1127.5,254.5 1129.5,253.8 1131.5,253.1 1133.5,252.2 1135.5,251.2 1137.5,250.2 1139.5,249.2 1141.5,248.2 1143.5,247.1 1145.5,245.9 1147.5,244.6 1149.5,243.4 1151.5,242.1 1153.5,240.9 1155.5,239.7 1157.5,238.4 1159.5,237.2 1161.5,236.0 1163.5,234.8 1165.5,233.8 1167.5,232.9 1169.5,232.1 1171.5,231.2 1173.5,230.3 1175.5,229.4 1177.5,228.5 1179.5,227.6 1181.5,226.8 1183.5,226.0 1185.5,225.3 1187.5,224.6 1189.5,224.0 1191.5,223.3 1193.5,222.7 1195.5,222.2 1197.5,221.6 1199.5,221.2 1201.5,220.9 1203.5,220.6 1205.5,220.4 1207.5,220.1 1209.5,219.9 1211.5,219.6 1213.5,219.3 1215.5,219.0 1217.5,218.7 1219.5,218.4 1221.5,218.0 1223.5,217.7 1225.5,217.4 1227.5,217.0 1229.5,216.6 1231.5,216.3 1233.5,215.9 1235.5,215.5 1237.5,215.1 1239.5,214.8 1241.5,214.6 1243.5,214.3 1245.5,214.1 1247.5,214.0 1249.5,213.9 1251.5,213.9 1253.5,213.9 1255.5,213.8 1257.5,213.9 1259.5,213.9 1261.5,214.0 1263.5,214.0 1265.5,214.1 1267.5,214.0 1269.5,213.9 1271.5,213.8 1273.5,213.7 1275.5,213.6 1277.5,213.5 1279.5,213.3 1281.5,213.2 1283.5,213.1 1285.5,213.0 1287.5,213.0 1289.5,213.1 1291.5,213.1 1293.5,213.2 1295.5,213.4 1297.5,213.7 1299.5,214.0 1301.5,214.3 1303.5,214.6 1305.5,214.9 1307.5,215.2 1309.5,215.5 1311.5,215.8 1313.5,216.1 1315.5,216.4 1317.5,216.7 1319.5,217.0 1321.5,217.3 1323.5,217.7 1325.5,218.2 1327.5,218.6" fill="none" stroke="#ff0000" stroke-width="2" stroke-linejoin="round" stroke-linecap="round"/><rect x="14" y="88" width="1" height="30" fill="#ef5350"/><rect x="13" y="88" width="3" height="30" fill="#ef5350"/><rect x="19" y="99" width="1" height="23" fill="#26a69a"/><rect x="18" y="103" width="3" height="14" fill="#26a69a"/><rect x="24" y="102" width="1" height="52" fill="#ef5350"/><rect x="23" y="103" width="3" height="18" fill="#ef5350"/><rect x="29" y="109" width="1" height="24" fill="#26a69a"/><rect x="28" y="119" width="3" height="2" fill="#26a69a"/><rect x="34" y="110" width="1" height="18" fill="#ef5350"/><rect x="33" y="119" width="3" height="3" fill="#ef5350"/><rect x="39" y="120" width="1" height="15" fill="#ef5350"/><rect x="38" y="121" width="3" height="8" fill="#ef5350"/><rect x="44" y="121" width="1" height="19" fill="#ef5350"/><rect x="43" y="129" width="3" height="8" fill="#ef5350"/><rect x="49" y="128" width="1" height="15" fill="#26a69a"/><rect x="48" y="132" width="3" height="5" fill="#26a69a"/><rect x="54" y="117" width="1" height="17" fill="#26a69a"/><rect x="53" y="118" width="3" height="15" fill="#26a69a"/><rect x="59" y="117" width="1" height="17" fill="#ef5350"/><rect x="58" y="118" width="3" height="11" fill="#ef5350"/><rect x="64" y="125" width="1" height="10" fill="#ef5350"/><rect x="63" y="128" width="3" height="7" fill="#ef5350"/><rect x="70" y="128" width="1" height="7" fill="#26a69a"/><rect x="69" y="130" width="3" height="5" fill="#26a69a"/><rect x="75" y="124" width="1" height="8" fill="#ef5350"/><rect x="74" y="130" width="3" height="2" fill="#ef5350"/><rect x="80" y="130" width="1" height="10" fill="#ef5350"/><rect x="79" y="131" width="3" height="6" fill="#ef5350"/><rect x="85" y="135" width="1" height="15" fill="#ef5350"/><rect x="84" y="136" width="3" height="13" fill="#ef5350"/><rect x="90" y="144" width="1" height="39" fill="#ef5350"/><rect x="89" y="148" width="3" height="24" fill="#ef5350"/><rect x="95" y="155" width="1" height="36" fill="#26a69a"/><rect x="94" y="164" width="3" height="8" fill="#26a69a"/><rect x="100" y="164" width="1" height="19" fill="#ef5350"/><rect x="99" y="164" width="3" height="12" fill="#ef5350"/><rect x="105" y="160" width="1" height="21" fill="#ef5350"/><rect x="104" y="175" width="3" height="2" fill="#ef5350"/><rect x="110" y="167" width="1" height="10" fill="#26a69a"/><rect x="109" y="170" width="3" height="7" fill="#26a69a"/><rect x="115" y="156" width="1" height="15" fill="#26a69a"/><rect x="114" y="161" width="3" height="10" fill="#26a69a"/><rect x="120" y="98" width="1" height="65" fill="#26a69a"/><rect x="119" y="101" width="3" height="61" fill="#26a69a"/><rect x="125" y="100" width="1" height="30" fill="#ef5350"/><rect x="124" y="102" width="3" height="23" fill="#ef5350"/><rect x="130" y="122" width="1" height="12" fill="#ef5350"/><rect x="129" y="124" width="3" height="4" fill="#ef5350"/><rect x="135" y="116" width="1" height="18" fill="#ef5350"/><rect x="134" y="127" width="3" height="6" fill="#ef5350"/><rect x="140" y="118" width="1" height="16" fill="#26a69a"/><rect x="139" y="126" width="3" height="7" fill="#26a69a"/><rect x="145" y="122" width="1" height="8" fill="#ef5350"/><rect x="144" y="126" width="3" height="1" fill="#ef5350"/><rect x="150" y="120" width="1" height="31" fill="#ef5350"/><rect x="149" y="126" width="3" height="20" fill="#ef5350"/><rect x="155" y="130" width="1" height="18" fill="#26a69a"/><rect x="154" y="140" width="3" height="6" fill="#26a69a"/><rect x="160" y="131" width="1" height="10" fill="#26a69a"/><rect x="159" y="134" width="3" height="7" fill="#26a69a"/><rect x="165" y="134" width="1" height="17" fill="#ef5350"/><rect x="164" y="134" width="3" height="16" fill="#ef5350"/><rect x="170" y="142" width="1" height="8" fill="#26a69a"/><rect x="169" y="146" width="3" height="4" fill="#26a69a"/><rect x="175" y="144" width="1" height="12" fill="#ef5350"/><rect x="174" y="146" width="3" height="4" fill="#ef5350"/><rect x="180" y="143" width="1" height="12" fill="#ef5350"/><rect x="179" y="149" width="3" height="2" fill="#ef5350"/><rect x="185" y="147" width="1" height="14" fill="#ef5350"/><rect x="184" y="150" width="3" height="10" fill="#ef5350"/><rect x="190" y="153" width="1" height="14" fill="#ef5350"/><rect x="189" y="159" width="3" height="4" fill="#ef5350"/><rect x="195" y="161" width="1" height="10" fill="#ef5350"/><rect x="194" y="162" width="3" height="4" fill="#ef5350"/><rect x="200" y="151" width="1" height="19" fill="#26a69a"/><rect x="199" y="153" width="3" height="14" fill="#26a69a"/><rect x="205" y="153" width="1" height="8" fill="#26a69a"/><rect x="204" y="158" width="3" height="2" fill="#26a69a"/><rect x="210" y="145" width="1" height="22" fill="#26a69a"/><rect x="209" y="158" width="3" height="1" fill="#26a69a"/><rect x="215" y="157" width="1" height="17" fill="#ef5350"/><rect x="214" y="157" width="3" height="15" fill="#ef5350"/><rect x="221" y="165" width="1" height="8" fill="#26a69a"/><rect x="220" y="169" width="3" height="3" fill="#26a69a"/><rect x="226" y="159" width="1" height="14" fill="#26a69a"/><rect x="225" y="162" width="3" height="8" fill="#26a69a"/><rect x="231" y="162" width="1" height="12" fill="#ef5350"/><rect x="230" y="162" width="3" height="11" fill="#ef5350"/><rect x="236" y="167" width="1" height="12" fill="#ef5350"/><rect x="235" y="171" width="3" height="8" fill="#ef5350"/><rect x="241" y="173" width="1" height="6" fill="#26a69a"/><rect x="240" y="176" width="3" height="3" fill="#26a69a"/><rect x="246" y="173" width="1" height="14" fill="#ef5350"/><rect x="245" y="176" width="3" height="5" fill="#ef5350"/><rect x="251" y="179" width="1" height="6" fill="#ef5350"/><rect x="250" y="180" width="3" height="1" fill="#ef5350"/><rect x="256" y="173" width="1" height="23" fill="#ef5350"/><rect x="255" y="180" width="3" height="11" fill="#ef5350"/><rect x="261" y="188" width="1" height="24" fill="#ef5350"/><rect x="260" y="191" width="3" height="10" fill="#ef5350"/><rect x="266" y="192" width="1" height="17" fill="#26a69a"/><rect x="265" y="193" width="3" height="8" fill="#26a69a"/><rect x="271" y="192" width="1" height="24" fill="#ef5350"/><rect x="270" y="193" width="3" height="16" fill="#ef5350"/><rect x="276" y="207" width="1" height="20" fill="#ef5350"/><rect x="275" y="208" width="3" height="7" fill="#ef5350"/><rect x="281" y="196" width="1" height="22" fill="#26a69a"/><rect x="280" y="212" width="3" height="3" fill="#26a69a"/><rect x="286" y="172" width="1" height="42" fill="#26a69a"/><rect x="285" y="179" width="3" height="34" fill="#26a69a"/><rect x="291" y="172" width="1" height="28" fill="#ef5350"/><rect x="290" y="179" width="3" height="17" fill="#ef5350"/><rect x="296" y="195" width="1" height="13" fill="#ef5350"/><rect x="295" y="196" width="3" height="8" fill="#ef5350"/><rect x="301" y="187" width="1" height="18" fill="#26a69a"/><rect x="300" y="193" width="3" height="11" fill="#26a69a"/><rect x="306" y="132" width="1" height="62" fill="#26a69a"/><rect x="305" y="171" width="3" height="23" fill="#26a69a"/><rect x="311" y="168" width="1" height="16" fill="#ef5350"/><rect x="310" y="171" width="3" height="4" fill="#ef5350"/><rect x="316" y="172" width="1" height="23" fill="#ef5350"/><rect x="315" y="174" width="3" height="18" fill="#ef5350"/><rect x="321" y="177" width="1" height="26" fill="#ef5350"/><rect x="320" y="191" width="3" height="4" fill="#ef5350"/><rect x="326" y="194" width="1" height="36" fill="#ef5350"/><rect x="325" y="194" width="3" height="24" fill="#ef5350"/><rect x="331" y="199" width="1" height="24" fill="#26a69a"/><rect x="330" y="210" width="3" height="8" fill="#26a69a"/><rect x="336" y="203" width="1" height="13" fill="#26a69a"/><rect x="335" y="207" width="3" height="4" fill="#26a69a"/><rect x="341" y="187" width="1" height="24" fill="#26a69a"/><rect x="340" y="206" width="3" height="2" fill="#26a69a"/><rect x="346" y="190" width="1" height="31" fill="#26a69a"/><rect x="345" y="194" width="3" height="13" fill="#26a69a"/><rect x="351" y="192" width="1" height="15" fill="#ef5350"/><rect x="350" y="194" width="3" height="10" fill="#ef5350"/><rect x="356" y="198" width="1" height="8" fill="#26a69a"/><rect x="355" y="201" width="3" height="3" fill="#26a69a"/><rect x="361" y="197" width="1" height="7" fill="#26a69a"/><rect x="360" y="200" width="3" height="2" fill="#26a69a"/><rect x="366" y="182" width="1" height="19" fill="#26a69a"/><rect x="365" y="199" width="3" height="2" fill="#26a69a"/><rect x="372" y="196" width="1" height="12" fill="#ef5350"/><rect x="371" y="198" width="3" height="5" fill="#ef5350"/><rect x="377" y="202" width="1" height="21" fill="#ef5350"/><rect x="376" y="202" width="3" height="13" fill="#ef5350"/><rect x="382" y="208" width="1" height="9" fill="#26a69a"/><rect x="381" y="208" width="3" height="7" fill="#26a69a"/><rect x="387" y="205" width="1" height="8" fill="#ef5350"/><rect x="386" y="209" width="3" height="1" fill="#ef5350"/><rect x="392" y="206" width="1" height="10" fill="#26a69a"/><rect x="391" y="209" width="3" height="1" fill="#26a69a"/><rect x="397" y="209" width="1" height="16" fill="#ef5350"/><rect x="396" y="209" width="3" height="5" fill="#ef5350"/><rect x="402" y="199" width="1" height="15" fill="#26a69a"/><rect x="401" y="202" width="3" height="12" fill="#26a69a"/><rect x="407" y="192" width="1" height="13" fill="#ef5350"/><rect x="406" y="202" width="3" height="2" fill="#ef5350"/><rect x="412" y="198" width="1" height="6" fill="#26a69a"/><rect x="411" y="201" width="3" height="3" fill="#26a69a"/><rect x="417" y="195" width="1" height="11" fill="#ef5350"/><rect x="416" y="201" width="3" height="5" fill="#ef5350"/><rect x="422" y="198" width="1" height="10" fill="#26a69a"/><rect x="421" y="202" width="3" height="4" fill="#26a69a"/><rect x="427" y="159" width="1" height="45" fill="#26a69a"/><rect x="426" y="173" width="3" height="30" fill="#26a69a"/><rect x="432" y="149" width="1" height="33" fill="#26a69a"/><rect x="431" y="153" width="3" height="21" fill="#26a69a"/><rect x="437" y="117" width="1" height="52" fill="#26a69a"/><rect x="436" y="128" width="3" height="26" fill="#26a69a"/><rect x="442" y="103" width="1" height="38" fill="#ef5350"/><rect x="441" y="128" width="3" height="6" fill="#ef5350"/><rect x="447" y="81" width="1" height="55" fill="#26a69a"/><rect x="446" y="84" width="3" height="50" fill="#26a69a"/><rect x="452" y="85" width="1" height="43" fill="#ef5350"/><rect x="451" y="86" width="3" height="38" fill="#ef5350"/><rect x="457" y="116" width="1" height="35" fill="#ef5350"/><rect x="456" y="123" width="3" height="17" fill="#ef5350"/><rect x="462" y="121" width="1" height="20" fill="#26a69a"/><rect x="461" y="136" width="3" height="4" fill="#26a69a"/><rect x="467" y="125" width="1" height="22" fill="#ef5350"/><rect x="466" y="136" width="3" height="7" fill="#ef5350"/><rect x="472" y="141" width="1" height="19" fill="#ef5350"/><rect x="471" y="142" width="3" height="7" fill="#ef5350"/><rect x="477" y="147" width="1" height="15" fill="#ef5350"/><rect x="476" y="149" width="3" height="2" fill="#ef5350"/><rect x="482" y="134" width="1" height="18" fill="#26a69a"/><rect x="481" y="140" width="3" height="11" fill="#26a69a"/><rect x="487" y="136" width="1" height="20" fill="#ef5350"/><rect x="486" y="140" width="3" height="13" fill="#ef5350"/><rect x="492" y="151" width="1" height="16" fill="#ef5350"/><rect x="491" y="152" width="3" height="11" fill="#ef5350"/><rect x="497" y="162" width="1" height="25" fill="#ef5350"/><rect x="496" y="162" width="3" height="19" fill="#ef5350"/><rect x="502" y="169" width="1" height="12" fill="#26a69a"/><rect x="501" y="173" width="3" height="8" fill="#26a69a"/><rect x="507" y="167" width="1" height="12" fill="#ef5350"/><rect x="506" y="173" width="3" height="5" fill="#ef5350"/><rect x="512" y="167" width="1" height="15" fill="#26a69a"/><rect x="511" y="173" width="3" height="5" fill="#26a69a"/><rect x="517" y="171" width="1" height="10" fill="#ef5350"/><rect x="516" y="173" width="3" height="6" fill="#ef5350"/><rect x="523" y="172" width="1" height="7" fill="#26a69a"/><rect x="522" y="178" width="3" height="1" fill="#26a69a"/><rect x="528" y="173" width="1" height="17" fill="#ef5350"/><rect x="527" y="178" width="3" height="9" fill="#ef5350"/><rect x="533" y="180" width="1" height="8" fill="#26a69a"/><rect x="532" y="180" width="3" height="7" fill="#26a69a"/><rect x="538" y="161" width="1" height="24" fill="#26a69a"/><rect x="537" y="162" width="3" height="20" fill="#26a69a"/><rect x="543" y="156" width="1" height="27" fill="#ef5350"/><rect x="542" y="162" width="3" height="19" fill="#ef5350"/><rect x="548" y="180" width="1" height="17" fill="#ef5350"/><rect x="547" y="180" width="3" height="14" fill="#ef5350"/><rect x="553" y="185" width="1" height="19" fill="#26a69a"/><rect x="552" y="192" width="3" height="2" fill="#26a69a"/><rect x="558" y="191" width="1" height="18" fill="#ef5350"/><rect x="557" y="192" width="3" height="17" fill="#ef5350"/><rect x="563" y="199" width="1" height="76" fill="#ef5350"/><rect x="562" y="208" width="3" height="27" fill="#ef5350"/><rect x="568" y="224" width="1" height="25" fill="#ef5350"/><rect x="567" y="234" width="3" height="6" fill="#ef5350"/><rect x="573" y="198" width="1" height="42" fill="#26a69a"/><rect x="572" y="211" width="3" height="29" fill="#26a69a"/><rect x="578" y="207" width="1" height="14" fill="#ef5350"/><rect x="577" y="210" width="3" height="3" fill="#ef5350"/><rect x="583" y="210" width="1" height="16" fill="#ef5350"/><rect x="582" y="212" width="3" height="13" fill="#ef5350"/><rect x="588" y="219" width="1" height="15" fill="#26a69a"/><rect x="587" y="221" width="3" height="4" fill="#26a69a"/><rect x="593" y="209" width="1" height="17" fill="#26a69a"/><rect x="592" y="219" width="3" height="3" fill="#26a69a"/><rect x="598" y="210" width="1" height="16" fill="#26a69a"/><rect x="597" y="217" width="3" height="3" fill="#26a69a"/><rect x="603" y="214" width="1" height="27" fill="#ef5350"/><rect x="602" y="217" width="3" height="18" fill="#ef5350"/><rect x="608" y="223" width="1" height="12" fill="#26a69a"/><rect x="607" y="229" width="3" height="6" fill="#26a69a"/><rect x="613" y="223" width="1" height="12" fill="#26a69a"/><rect x="612" y="225" width="3" height="5" fill="#26a69a"/><rect x="618" y="225" width="1" height="15" fill="#ef5350"/><rect x="617" y="225" width="3" height="6" fill="#ef5350"/><rect x="623" y="228" width="1" height="20" fill="#ef5350"/><rect x="622" y="230" width="3" height="11" fill="#ef5350"/><rect x="628" y="233" width="1" height="20" fill="#ef5350"/><rect x="627" y="240" width="3" height="3" fill="#ef5350"/><rect x="633" y="227" width="1" height="19" fill="#26a69a"/><rect x="632" y="228" width="3" height="15" fill="#26a69a"/><rect x="638" y="225" width="1" height="13" fill="#ef5350"/><rect x="637" y="228" width="3" height="5" fill="#ef5350"/><rect x="643" y="214" width="1" height="20" fill="#26a69a"/><rect x="642" y="221" width="3" height="12" fill="#26a69a"/><rect x="648" y="205" width="1" height="17" fill="#26a69a"/><rect x="647" y="215" width="3" height="7" fill="#26a69a"/><rect x="653" y="211" width="1" height="7" fill="#26a69a"/><rect x="652" y="214" width="3" height="2" fill="#26a69a"/><rect x="658" y="205" width="1" height="10" fill="#26a69a"/><rect x="657" y="212" width="3" height="3" fill="#26a69a"/><rect x="663" y="211" width="1" height="14" fill="#ef5350"/><rect x="662" y="212" width="3" height="3" fill="#ef5350"/><rect x="668" y="213" width="1" height="9" fill="#ef5350"/><rect x="667" y="213" width="3" height="7" fill="#ef5350"/><rect x="674" y="218" width="1" height="12" fill="#ef5350"/><rect x="673" y="219" width="3" height="7" fill="#ef5350"/><rect x="679" y="219" width="1" height="9" fill="#26a69a"/><rect x="678" y="223" width="3" height="2" fill="#26a69a"/><rect x="684" y="216" width="1" height="9" fill="#26a69a"/><rect x="683" y="220" width="3" height="5" fill="#26a69a"/><rect x="689" y="218" width="1" height="12" fill="#ef5350"/><rect x="688" y="220" width="3" height="7" fill="#ef5350"/><rect x="694" y="214" width="1" height="16" fill="#26a69a"/><rect x="693" y="216" width="3" height="11" fill="#26a69a"/><rect x="699" y="215" width="1" height="6" fill="#ef5350"/><rect x="698" y="216" width="3" height="3" fill="#ef5350"/><rect x="704" y="216" width="1" height="7" fill="#ef5350"/><rect x="703" y="218" width="3" height="2" fill="#ef5350"/><rect x="709" y="217" width="1" height="8" fill="#ef5350"/><rect x="708" y="219" width="3" height="6" fill="#ef5350"/><rect x="714" y="218" width="1" height="7" fill="#26a69a"/><rect x="713" y="220" width="3" height="5" fill="#26a69a"/><rect x="719" y="219" width="1" height="5" fill="#26a69a"/><rect x="718" y="220" width="3" height="1" fill="#26a69a"/><rect x="724" y="218" width="1" height="14" fill="#ef5350"/><rect x="723" y="220" width="3" height="8" fill="#ef5350"/><rect x="729" y="224" width="1" height="13" fill="#ef5350"/><rect x="728" y="227" width="3" height="10" fill="#ef5350"/><rect x="734" y="232" width="1" height="10" fill="#ef5350"/><rect x="733" y="236" width="3" height="3" fill="#ef5350"/><rect x="739" y="231" width="1" height="8" fill="#26a69a"/><rect x="738" y="234" width="3" height="5" fill="#26a69a"/><rect x="744" y="233" width="1" height="8" fill="#ef5350"/><rect x="743" y="235" width="3" height="6" fill="#ef5350"/><rect x="749" y="232" width="1" height="9" fill="#26a69a"/><rect x="748" y="234" width="3" height="7" fill="#26a69a"/><rect x="754" y="226" width="1" height="12" fill="#ef5350"/><rect x="753" y="234" width="3" height="3" fill="#ef5350"/><rect x="759" y="235" width="1" height="8" fill="#ef5350"/><rect x="758" y="236" width="3" height="1" fill="#ef5350"/><rect x="764" y="234" width="1" height="14" fill="#ef5350"/><rect x="763" y="237" width="3" height="11" fill="#ef5350"/><rect x="769" y="241" width="1" height="9" fill="#26a69a"/><rect x="768" y="244" width="3" height="4" fill="#26a69a"/><rect x="774" y="235" width="1" height="11" fill="#26a69a"/><rect x="773" y="244" width="3" height="1" fill="#26a69a"/><rect x="779" y="240" width="1" height="5" fill="#26a69a"/><rect x="778" y="243" width="3" height="2" fill="#26a69a"/><rect x="784" y="240" width="1" height="7" fill="#26a69a"/><rect x="783" y="243" width="3" height="1" fill="#26a69a"/><rect x="789" y="238" width="1" height="6" fill="#26a69a"/><rect x="788" y="242" width="3" height="2" fill="#26a69a"/><rect x="794" y="239" width="1" height="5" fill="#26a69a"/><rect x="793" y="240" width="3" height="3" fill="#26a69a"/><rect x="799" y="236" width="1" height="7" fill="#ef5350"/><rect x="798" y="239" width="3" height="4" fill="#ef5350"/><rect x="804" y="239" width="1" height="6" fill="#26a69a"/><rect x="803" y="240" width="3" height="2" fill="#26a69a"/><rect x="809" y="240" width="1" height="5" fill="#ef5350"/><rect x="808" y="240" width="3" height="3" fill="#ef5350"/><rect x="814" y="237" width="1" height="6" fill="#26a69a"/><rect x="813" y="239" width="3" height="4" fill="#26a69a"/><rect x="819" y="212" width="1" height="28" fill="#26a69a"/><rect x="818" y="224" width="3" height="16" fill="#26a69a"/><rect x="825" y="217" width="1" height="10" fill="#26a69a"/><rect x="824" y="223" width="3" height="2" fill="#26a69a"/><rect x="830" y="220" width="1" height="15" fill="#ef5350"/><rect x="829" y="223" width="3" height="9" fill="#ef5350"/><rect x="835" y="230" width="1" height="13" fill="#ef5350"/><rect x="834" y="231" width="3" height="12" fill="#ef5350"/><rect x="840" y="236" width="1" height="6" fill="#26a69a"/><rect x="839" y="238" width="3" height="4" fill="#26a69a"/><rect x="845" y="231" width="1" height="15" fill="#ef5350"/><rect x="844" y="237" width="3" height="7" fill="#ef5350"/><rect x="850" y="240" width="1" height="22" fill="#ef5350"/><rect x="849" y="242" width="3" height="13" fill="#ef5350"/><rect x="855" y="248" width="1" height="9" fill="#26a69a"/><rect x="854" y="252" width="3" height="3" fill="#26a69a"/><rect x="860" y="247" width="1" height="9" fill="#26a69a"/><rect x="859" y="250" width="3" height="3" fill="#26a69a"/><rect x="865" y="248" width="1" height="8" fill="#ef5350"/><rect x="864" y="250" width="3" height="2" fill="#ef5350"/><rect x="870" y="238" width="1" height="15" fill="#26a69a"/><rect x="869" y="241" width="3" height="11" fill="#26a69a"/><rect x="875" y="230" width="1" height="20" fill="#ef5350"/><rect x="874" y="241" width="3" height="6" fill="#ef5350"/><rect x="880" y="244" width="1" height="9" fill="#ef5350"/><rect x="879" y="246" width="3" height="3" fill="#ef5350"/><rect x="885" y="240" width="1" height="9" fill="#26a69a"/><rect x="884" y="243" width="3" height="6" fill="#26a69a"/><rect x="890" y="241" width="1" height="7" fill="#ef5350"/><rect x="889" y="242" width="3" height="4" fill="#ef5350"/><rect x="895" y="243" width="1" height="4" fill="#26a69a"/><rect x="894" y="245" width="3" height="1" fill="#26a69a"/><rect x="900" y="241" width="1" height="6" fill="#ef5350"/><rect x="899" y="244" width="3" height="3" fill="#ef5350"/><rect x="905" y="245" width="1" height="14" fill="#ef5350"/><rect x="904" y="245" width="3" height="14" fill="#ef5350"/><rect x="910" y="244" width="1" height="16" fill="#26a69a"/><rect x="909" y="246" width="3" height="13" fill="#26a69a"/><rect x="915" y="240" width="1" height="8" fill="#26a69a"/><rect x="914" y="244" width="3" height="2" fill="#26a69a"/><rect x="920" y="238" width="1" height="8" fill="#26a69a"/><rect x="919" y="241" width="3" height="4" fill="#26a69a"/><rect x="925" y="239" width="1" height="7" fill="#ef5350"/><rect x="924" y="241" width="3" height="5" fill="#ef5350"/><rect x="930" y="240" width="1" height="6" fill="#26a69a"/><rect x="929" y="242" width="3" height="4" fill="#26a69a"/><rect x="935" y="242" width="1" height="6" fill="#ef5350"/><rect x="934" y="242" width="3" height="3" fill="#ef5350"/><rect x="940" y="242" width="1" height="10" fill="#ef5350"/><rect x="939" y="244" width="3" height="8" fill="#ef5350"/><rect x="945" y="248" width="1" height="6" fill="#ef5350"/><rect x="944" y="251" width="3" height="3" fill="#ef5350"/><rect x="950" y="250" width="1" height="4" fill="#26a69a"/><rect x="949" y="251" width="3" height="3" fill="#26a69a"/><rect x="955" y="250" width="1" height="7" fill="#ef5350"/><rect x="954" y="251" width="3" height="5" fill="#ef5350"/><rect x="960" y="254" width="1" height="7" fill="#ef5350"/><rect x="959" y="255" width="3" height="6" fill="#ef5350"/><rect x="965" y="259" width="1" height="14" fill="#ef5350"/><rect x="964" y="260" width="3" height="5" fill="#ef5350"/><rect x="970" y="256" width="1" height="9" fill="#ef5350"/><rect x="969" y="264" width="3" height="1" fill="#ef5350"/><rect x="976" y="263" width="1" height="6" fill="#ef5350"/><rect x="975" y="264" width="3" height="3" fill="#ef5350"/><rect x="981" y="262" width="1" height="7" fill="#26a69a"/><rect x="980" y="263" width="3" height="4" fill="#26a69a"/><rect x="986" y="261" width="1" height="4" fill="#26a69a"/><rect x="985" y="263" width="3" height="2" fill="#26a69a"/><rect x="991" y="258" width="1" height="6" fill="#26a69a"/><rect x="990" y="258" width="3" height="6" fill="#26a69a"/><rect x="996" y="258" width="1" height="5" fill="#ef5350"/><rect x="995" y="259" width="3" height="4" fill="#ef5350"/><rect x="1001" y="261" width="1" height="5" fill="#ef5350"/><rect x="1000" y="262" width="3" height="3" fill="#ef5350"/><rect x="1006" y="263" width="1" height="2" fill="#26a69a"/><rect x="1005" y="264" width="3" height="1" fill="#26a69a"/><rect x="1011" y="260" width="1" height="5" fill="#26a69a"/><rect x="1010" y="261" width="3" height="4" fill="#26a69a"/><rect x="1016" y="260" width="1" height="3" fill="#ef5350"/><rect x="1015" y="261" width="3" height="2" fill="#ef5350"/><rect x="1021" y="261" width="1" height="4" fill="#ef5350"/><rect x="1020" y="262" width="3" height="3" fill="#ef5350"/><rect x="1026" y="261" width="1" height="5" fill="#26a69a"/><rect x="1025" y="265" width="3" height="1" fill="#26a69a"/><rect x="1031" y="262" width="1" height="7" fill="#ef5350"/><rect x="1030" y="263" width="3" height="6" fill="#ef5350"/><rect x="1036" y="266" width="1" height="4" fill="#ef5350"/><rect x="1035" y="268" width="3" height="2" fill="#ef5350"/><rect x="1041" y="268" width="1" height="6" fill="#ef5350"/><rect x="1040" y="269" width="3" height="4" fill="#ef5350"/><rect x="1046" y="271" width="1" height="10" fill="#ef5350"/><rect x="1045" y="272" width="3" height="7" fill="#ef5350"/><rect x="1051" y="276" width="1" height="8" fill="#ef5350"/><rect x="1050" y="278" width="3" height="2" fill="#ef5350"/><rect x="1056" y="279" width="1" height="10" fill="#ef5350"/><rect x="1055" y="279" width="3" height="8" fill="#ef5350"/><rect x="1061" y="262" width="1" height="25" fill="#26a69a"/><rect x="1060" y="263" width="3" height="24" fill="#26a69a"/><rect x="1066" y="245" width="1" height="23" fill="#ef5350"/><rect x="1065" y="264" width="3" height="1" fill="#ef5350"/><rect x="1071" y="258" width="1" height="8" fill="#26a69a"/><rect x="1070" y="259" width="3" height="7" fill="#26a69a"/><rect x="1076" y="251" width="1" height="9" fill="#26a69a"/><rect x="1075" y="257" width="3" height="3" fill="#26a69a"/><rect x="1081" y="253" width="1" height="5" fill="#26a69a"/><rect x="1080" y="256" width="3" height="2" fill="#26a69a"/><rect x="1086" y="254" width="1" height="9" fill="#ef5350"/><rect x="1085" y="255" width="3" height="5" fill="#ef5350"/><rect x="1091" y="247" width="1" height="13" fill="#26a69a"/><rect x="1090" y="256" width="3" height="4" fill="#26a69a"/><rect x="1096" y="247" width="1" height="10" fill="#26a69a"/><rect x="1095" y="252" width="3" height="4" fill="#26a69a"/><rect x="1101" y="244" width="1" height="11" fill="#26a69a"/><rect x="1100" y="246" width="3" height="8" fill="#26a69a"/><rect x="1106" y="244" width="1" height="4" fill="#26a69a"/><rect x="1105" y="245" width="3" height="2" fill="#26a69a"/><rect x="1111" y="229" width="1" height="18" fill="#26a69a"/><rect x="1110" y="231" width="3" height="15" fill="#26a69a"/><rect x="1116" y="212" width="1" height="29" fill="#26a69a"/><rect x="1115" y="214" width="3" height="18" fill="#26a69a"/><rect x="1121" y="213" width="1" height="17" fill="#ef5350"/><rect x="1120" y="213" width="3" height="11" fill="#ef5350"/><rect x="1127" y="223" width="1" height="14" fill="#ef5350"/><rect x="1126" y="223" width="3" height="13" fill="#ef5350"/><rect x="1132" y="231" width="1" height="9" fill="#26a69a"/><rect x="1131" y="234" width="3" height="1" fill="#26a69a"/><rect x="1137" y="226" width="1" height="13" fill="#26a69a"/><rect x="1136" y="233" width="3" height="2" fill="#26a69a"/><rect x="1142" y="224" width="1" height="10" fill="#26a69a"/><rect x="1141" y="226" width="3" height="8" fill="#26a69a"/><rect x="1147" y="221" width="1" height="8" fill="#26a69a"/><rect x="1146" y="225" width="3" height="2" fill="#26a69a"/><rect x="1152" y="211" width="1" height="16" fill="#26a69a"/><rect x="1151" y="215" width="3" height="11" fill="#26a69a"/><rect x="1157" y="203" width="1" height="18" fill="#26a69a"/><rect x="1156" y="206" width="3" height="10" fill="#26a69a"/><rect x="1162" y="196" width="1" height="12" fill="#26a69a"/><rect x="1161" y="202" width="3" height="5" fill="#26a69a"/><rect x="1167" y="200" width="1" height="12" fill="#ef5350"/><rect x="1166" y="202" width="3" height="7" fill="#ef5350"/><rect x="1172" y="203" width="1" height="8" fill="#ef5350"/><rect x="1171" y="208" width="3" height="2" fill="#ef5350"/><rect x="1177" y="205" width="1" height="18" fill="#ef5350"/><rect x="1176" y="209" width="3" height="5" fill="#ef5350"/><rect x="1182" y="210" width="1" height="10" fill="#ef5350"/><rect x="1181" y="213" width="3" height="7" fill="#ef5350"/><rect x="1187" y="215" width="1" height="14" fill="#ef5350"/><rect x="1186" y="219" width="3" height="8" fill="#ef5350"/><rect x="1192" y="218" width="1" height="10" fill="#26a69a"/><rect x="1191" y="220" width="3" height="6" fill="#26a69a"/><rect x="1197" y="212" width="1" height="9" fill="#26a69a"/><rect x="1196" y="216" width="3" height="5" fill="#26a69a"/><rect x="1202" y="215" width="1" height="7" fill="#ef5350"/><rect x="1201" y="216" width="3" height="5" fill="#ef5350"/><rect x="1207" y="214" width="1" height="7" fill="#26a69a"/><rect x="1206" y="217" width="3" height="4" fill="#26a69a"/><rect x="1212" y="216" width="1" height="6" fill="#ef5350"/><rect x="1211" y="217" width="3" height="3" fill="#ef5350"/><rect x="1217" y="209" width="1" height="11" fill="#26a69a"/><rect x="1216" y="213" width="3" height="7" fill="#26a69a"/><rect x="1222" y="211" width="1" height="11" fill="#ef5350"/><rect x="1221" y="214" width="3" height="7" fill="#ef5350"/><rect x="1227" y="218" width="1" height="4" fill="#26a69a"/><rect x="1226" y="219" width="3" height="3" fill="#26a69a"/><rect x="1232" y="214" width="1" height="6" fill="#26a69a"/><rect x="1231" y="217" width="3" height="3" fill="#26a69a"/><rect x="1237" y="204" width="1" height="14" fill="#26a69a"/><rect x="1236" y="208" width="3" height="10" fill="#26a69a"/><rect x="1242" y="205" width="1" height="6" fill="#26a69a"/><rect x="1241" y="206" width="3" height="2" fill="#26a69a"/><rect x="1247" y="191" width="1" height="22" fill="#ef5350"/><rect x="1246" y="206" width="3" height="4" fill="#ef5350"/><rect x="1252" y="207" width="1" height="6" fill="#26a69a"/><rect x="1251" y="208" width="3" height="2" fill="#26a69a"/><rect x="1257" y="205" width="1" height="5" fill="#ef5350"/><rect x="1256" y="208" width="3" height="2" fill="#ef5350"/><rect x="1262" y="208" width="1" height="5" fill="#26a69a"/><rect x="1261" y="208" width="3" height="2" fill="#26a69a"/><rect x="1267" y="206" width="1" height="5" fill="#ef5350"/><rect x="1266" y="208" width="3" height="2" fill="#ef5350"/><rect x="1272" y="199" width="1" height="11" fill="#26a69a"/><rect x="1271" y="204" width="3" height="6" fill="#26a69a"/><rect x="1278" y="200" width="1" height="7" fill="#26a69a"/><rect x="1277" y="203" width="3" height="2" fill="#26a69a"/><rect x="1283" y="203" width="1" height="23" fill="#ef5350"/><rect x="1282" y="203" width="3" height="19" fill="#ef5350"/><rect x="1288" y="218" width="1" height="13" fill="#ef5350"/><rect x="1287" y="221" width="3" height="1" fill="#ef5350"/><rect x="1293" y="217" width="1" height="6" fill="#26a69a"/><rect x="1292" y="219" width="3" height="3" fill="#26a69a"/><rect x="1298" y="218" width="1" height="12" fill="#ef5350"/><rect x="1297" y="218" width="3" height="6" fill="#ef5350"/><rect x="1303" y="225" width="1" height="17" fill="#ef5350"/><rect x="1302" y="225" width="3" height="12" fill="#ef5350"/><rect x="1308" y="231" width="1" height="7" fill="#26a69a"/><rect x="1307" y="235" width="3" height="1" fill="#26a69a"/><rect x="1313" y="226" width="1" height="11" fill="#26a69a"/><rect x="1312" y="227" width="3" height="10" fill="#26a69a"/><rect x="1318" y="225" width="1" height="9" fill="#ef5350"/><rect x="1317" y="227" width="3" height="6" fill="#ef5350"/><rect x="1323" y="230" width="1" height="5" fill="#ef5350"/><rect x="1322" y="232" width="3" height="1" fill="#ef5350"/><rect x="1328" y="232" width="1" height="10" fill="#ef5350"/><rect x="1327" y="233" width="3" height="9" fill="#ef5350"/></g><g clip-path="url(#cr)"><polyline points="17.5,385.2 23.4,387.1 30.7,388.8 38.1,391.5 45.4,394.1 49.8,395.1 54.2,395.6 60.1,396.6 66.0,398.8 71.9,401.0 77.8,403.2 83.6,404.7 89.5,406.9 95.4,408.4 101.3,410.3 107.2,412.1 114.5,411.7 120.4,408.4 127.8,406.2 131.9,404.7 137.8,402.1 143.6,400.3 149.5,399.1 155.4,396.6 161.3,394.1 167.2,391.5 173.1,389.3 180.4,387.1 185.6,386.8 190.7,390.0 195.1,391.5 202.5,393.2 208.4,394.7 214.2,396.6 220.1,398.1 226.0,399.1 231.9,400.6 237.8,402.1 241.9,402.5 247.8,404.0 253.6,405.4 259.5,407.4 265.4,408.8 271.3,410.6 275.7,412.4 280.1,414.3 284.5,412.8 290.4,412.1 296.3,412.4 301.4,411.8 306.6,409.4 311.0,407.6 316.9,406.2 322.8,404.7 327.2,404.0 333.1,401.8 338.9,400.3 343.4,398.5 347.8,395.9 352.2,394.7 361.9,394.5 367.2,393.2 372.5,393.2 377.8,395.0 383.1,396.2 388.4,396.8 393.6,396.8 398.9,395.5 404.2,394.5 409.5,393.8 414.8,393.6 420.1,393.1 425.4,391.5 430.7,388.8 436.0,385.3 442.2,380.9 447.5,375.1 452.8,371.5 458.9,369.1 467.0,365.0 472.2,363.8 478.1,362.4 483.9,360.9 491.3,359.9 497.2,362.1 501.6,365.0 506.7,369.4 512.6,373.1 517.8,378.2 523.6,381.2 529.5,383.4 535.4,385.6 541.3,386.8 547.2,388.5 553.1,390.7 558.9,393.7 564.8,396.6 571.3,398.1 577.8,399.1 583.6,400.3 589.5,401.5 595.4,401.8 599.8,402.1 604.2,403.5 608.6,405.0 614.5,405.6 618.9,406.2 624.8,406.9 628.5,406.9 632.2,405.4 638.1,404.0 643.9,402.9 649.8,401.5 655.7,399.6 661.6,397.6 667.5,396.6 673.4,395.6 680.6,394.7 687.8,393.7 693.6,391.5 699.5,389.7 705.4,388.8 711.3,388.2 717.2,388.2 723.1,389.3 728.9,391.2 734.8,392.9 740.7,394.0 746.6,394.9 752.5,395.6 758.4,396.2 764.2,398.5 770.1,400.3 776.0,401.8 781.9,402.9 787.8,404.1 793.4,404.4 800.7,403.5 808.1,402.9 813.9,402.1 819.8,399.6 825.7,397.1 831.6,395.1 837.5,393.7 843.4,392.6 849.2,392.9 855.1,393.2 861.0,393.2 865.4,393.7 871.3,392.6 877.2,392.2 883.1,391.8 888.9,393.7 894.8,395.1 900.6,396.2 904.8,397.1 910.7,397.1 915.1,396.2 919.5,394.1 925.4,392.6 931.3,390.7 936.4,390.0 941.6,390.7 950.4,390.7 956.3,392.2 962.2,394.1 969.5,395.9 975.4,396.6 981.3,398.5 987.2,400.3 993.1,401.5 998.9,403.2 1004.8,404.7 1010.7,404.7 1014.1,404.7 1022.2,405.4 1030.3,405.7 1038.4,406.0 1046.4,407.6 1051.3,409.3 1056.1,410.9 1061.0,410.1 1067.5,408.9 1073.9,404.7 1080.4,402.5 1086.9,400.4 1093.4,397.6 1099.8,393.1 1106.3,388.6 1110.8,383.3 1115.6,375.9 1120.7,370.0 1126.6,364.4 1132.5,362.4 1138.4,360.4 1144.2,358.5 1151.6,356.5 1156.7,353.5 1161.9,351.6 1167.8,350.1 1172.2,349.7 1178.1,350.1 1182.5,352.1 1186.9,355.0 1192.8,356.8 1198.6,357.1 1206.0,357.9 1211.9,358.5 1217.8,359.7 1221.9,361.6 1227.8,365.0 1232.2,366.8 1238.1,367.9 1243.9,368.5 1249.8,368.5 1255.7,367.5 1261.6,366.8 1267.5,366.8 1272.6,365.6 1277.8,365.0 1282.2,366.0 1286.6,368.2 1292.5,369.4 1296.9,370.9 1302.8,374.1 1308.6,377.8 1314.5,380.7 1320.4,383.7 1326.3,387.7" fill="none" stroke="#ffeb3b" stroke-width="1.6" stroke-linejoin="round" stroke-linecap="round"/><polyline points="14.5,402.5 19.5,392.2 24.5,404.0 29.5,403.0 34.5,404.0 39.5,409.9 44.5,414.3 49.5,409.1 54.5,395.6 59.5,401.8 64.5,406.9 70.5,402.5 75.5,403.2 80.5,406.9 85.5,416.5 90.5,427.9 95.5,419.4 100.5,425.0 105.5,425.0 110.5,416.5 115.5,407.6 120.5,363.2 125.5,378.5 130.5,380.6 135.5,383.4 140.5,379.7 145.5,379.7 150.5,392.9 155.5,388.8 160.5,384.9 165.5,395.1 170.5,392.9 175.5,394.7 180.5,395.1 185.5,401.0 190.5,403.5 195.5,405.9 200.5,399.1 205.5,399.1 210.5,397.4 215.5,408.1 221.5,406.2 226.5,397.6 231.5,405.4 236.5,410.3 241.5,408.4 246.5,410.6 251.5,411.3 256.5,418.7 261.5,426.0 266.5,415.3 271.5,423.8 276.5,428.2 281.5,426.0 286.5,387.4 291.5,398.8 296.5,404.4 301.5,395.1 306.5,378.5 311.5,380.0 316.5,391.8 321.5,394.7 326.5,408.4 331.5,404.0 336.5,400.0 341.5,398.1 346.5,388.2 351.5,394.4 356.5,392.3 361.5,392.0 366.5,390.9 372.5,393.2 377.5,403.8 382.5,397.3 387.5,397.6 392.5,397.6 397.5,401.5 402.5,387.9 407.5,389.2 412.5,386.2 417.5,391.5 422.5,387.1 427.5,359.7 432.5,345.6 437.5,335.9 442.5,342.1 447.5,326.7 452.5,356.2 457.5,366.2 462.5,365.0 467.5,368.7 472.5,373.5 477.5,374.6 482.5,368.2 487.5,377.5 492.5,384.9 497.5,394.4 502.5,389.3 507.5,391.8 512.5,389.7 517.5,392.2 523.5,392.2 528.5,398.1 533.5,393.7 538.5,378.5 543.5,390.7 548.5,399.6 553.5,398.5 558.5,408.4 563.5,420.1 568.5,421.6 573.5,399.6 578.5,400.3 583.5,406.2 588.5,403.5 593.5,401.5 598.5,400.3 603.5,410.6 608.5,405.9 613.5,401.8 618.5,404.0 623.5,410.9 628.5,412.1 633.5,397.6 638.5,400.6 643.5,390.7 648.5,385.3 653.5,385.3 658.5,383.4 663.5,385.6 668.5,390.0 674.5,394.7 679.5,392.6 684.5,388.8 689.5,395.9 694.5,383.4 699.5,385.9 704.5,387.8 709.5,393.2 714.5,387.8 719.5,387.8 724.5,394.7 729.5,405.4 734.5,407.6 739.5,402.1 744.5,407.9 749.5,397.6 754.5,400.3 759.5,401.5 764.5,412.8 769.5,406.9 774.5,406.9 779.5,406.2 784.5,405.4 789.5,401.8 794.5,397.6 799.5,400.3 804.5,398.1 809.5,400.6 814.5,393.2 819.5,366.5 825.5,363.5 830.5,382.6 835.5,396.2 840.5,390.0 845.5,397.4 850.5,411.3 855.5,406.5 860.5,402.1 865.5,404.7 870.5,386.3 875.5,394.1 880.5,396.6 885.5,388.2 890.5,391.5 895.5,390.3 900.5,392.9 905.5,408.8 910.5,387.8 915.5,386.3 920.5,381.5 925.5,387.1 930.5,382.6 935.5,385.9 940.5,395.9 945.5,399.6 950.5,395.1 955.5,401.8 960.5,407.6 965.5,412.1 970.5,412.4 976.5,414.7 981.5,411.3 986.5,407.4 991.5,397.6 996.5,401.8 1001.5,406.2 1006.5,404.7 1011.5,397.6 1016.5,399.6 1021.5,403.1 1026.5,402.8 1031.5,412.2 1036.5,413.3 1041.5,420.6 1046.5,427.4 1051.5,429.0 1056.5,437.6 1061.5,385.0 1066.5,386.6 1071.5,376.1 1076.5,372.9 1081.5,372.1 1086.5,378.2 1091.5,372.4 1096.5,366.9 1101.5,357.8 1106.5,356.5 1111.5,342.1 1116.5,328.5 1121.5,345.7 1127.5,364.9 1132.5,363.8 1137.5,362.9 1142.5,356.8 1147.5,355.0 1152.5,347.2 1157.5,339.4 1162.5,337.4 1167.5,348.2 1172.5,350.1 1177.5,357.5 1182.5,366.8 1187.5,377.1 1192.5,371.5 1197.5,365.6 1202.5,371.2 1207.5,368.5 1212.5,371.2 1217.5,364.5 1222.5,376.2 1227.5,373.8 1232.5,371.2 1237.5,360.6 1242.5,357.6 1247.5,364.6 1252.5,361.6 1257.5,365.6 1262.5,364.6 1267.5,365.0 1272.5,358.7 1278.5,356.2 1283.5,391.0 1288.5,391.5 1293.5,387.1 1298.5,397.9 1303.5,411.6 1308.5,410.1 1313.5,393.5 1318.5,400.9 1323.5,400.9 1328.5,412.4" fill="none" stroke="#7e57c2" stroke-width="1.6" stroke-linejoin="round" stroke-linecap="round"/></g><g clip-path="url(#ca)"><rect x="17" y="522" width="4" height="3" fill="#f44336"/><rect x="22" y="524" width="4" height="6" fill="#f44336"/><rect x="27" y="524" width="4" height="14" fill="#f44336"/><rect x="32" y="524" width="4" height="21" fill="#f44336"/><rect x="37" y="524" width="4" height="24" fill="#f44336"/><rect x="42" y="524" width="4" height="27" fill="#f44336"/><rect x="47" y="524" width="4" height="27" fill="#009688"/><rect x="52" y="524" width="4" height="26" fill="#009688"/><rect x="57" y="524" width="4" height="26" fill="#009688"/><rect x="62" y="524" width="4" height="25" fill="#009688"/><rect x="68" y="524" width="4" height="24" fill="#009688"/><rect x="73" y="524" width="4" height="21" fill="#009688"/><rect x="78" y="524" width="4" height="22" fill="#f44336"/><rect x="83" y="524" width="4" height="24" fill="#f44336"/><rect x="88" y="524" width="4" height="28" fill="#f44336"/><rect x="93" y="524" width="4" height="34" fill="#f44336"/><rect x="98" y="524" width="4" height="41" fill="#f44336"/><rect x="103" y="524" width="4" height="45" fill="#f44336"/><rect x="108" y="524" width="4" height="49" fill="#f44336"/><rect x="113" y="524" width="4" height="47" fill="#009688"/><rect x="118" y="524" width="4" height="39" fill="#009688"/><rect x="123" y="524" width="4" height="27" fill="#009688"/><rect x="128" y="524" width="4" height="18" fill="#009688"/><rect x="133" y="524" width="4" height="9" fill="#009688"/><rect x="138" y="524" width="4" height="1" fill="#009688"/><rect x="143" y="522" width="4" height="3" fill="#009688"/><rect x="148" y="524" width="4" height="2" fill="#f44336"/><rect x="153" y="524" width="4" height="3" fill="#f44336"/><rect x="158" y="524" width="4" height="4" fill="#f44336"/><rect x="163" y="524" width="4" height="5" fill="#f44336"/><rect x="168" y="524" width="4" height="7" fill="#f44336"/><rect x="173" y="524" width="4" height="8" fill="#f44336"/><rect x="178" y="524" width="4" height="8" fill="#f44336"/><rect x="183" y="524" width="4" height="10" fill="#f44336"/><rect x="188" y="524" width="4" height="12" fill="#f44336"/><rect x="193" y="524" width="4" height="15" fill="#f44336"/><rect x="198" y="524" width="4" height="16" fill="#f44336"/><rect x="203" y="524" width="4" height="16" fill="#f44336"/><rect x="208" y="524" width="4" height="16" fill="#009688"/><rect x="213" y="524" width="4" height="16" fill="#f44336"/><rect x="219" y="524" width="4" height="16" fill="#009688"/><rect x="224" y="524" width="4" height="15" fill="#009688"/><rect x="229" y="524" width="4" height="16" fill="#f44336"/><rect x="234" y="524" width="4" height="18" fill="#f44336"/><rect x="239" y="524" width="4" height="19" fill="#f44336"/><rect x="244" y="524" width="4" height="19" fill="#f44336"/><rect x="249" y="524" width="4" height="21" fill="#f44336"/><rect x="254" y="524" width="4" height="23" fill="#f44336"/><rect x="259" y="524" width="4" height="27" fill="#f44336"/><rect x="264" y="524" width="4" height="31" fill="#f44336"/><rect x="269" y="524" width="4" height="34" fill="#f44336"/><rect x="274" y="524" width="4" height="40" fill="#f44336"/><rect x="279" y="524" width="4" height="43" fill="#f44336"/><rect x="284" y="524" width="4" height="41" fill="#009688"/><rect x="289" y="524" width="4" height="36" fill="#009688"/><rect x="294" y="524" width="4" height="34" fill="#009688"/><rect x="299" y="524" width="4" height="28" fill="#009688"/><rect x="304" y="524" width="4" height="19" fill="#009688"/><rect x="309" y="524" width="4" height="14" fill="#009688"/><rect x="314" y="524" width="4" height="12" fill="#009688"/><rect x="319" y="524" width="4" height="9" fill="#009688"/><rect x="324" y="524" width="4" height="9" fill="#f44336"/><rect x="329" y="524" width="4" height="16" fill="#f44336"/><rect x="334" y="524" width="4" height="21" fill="#f44336"/><rect x="339" y="524" width="4" height="22" fill="#f44336"/><rect x="344" y="524" width="4" height="23" fill="#f44336"/><rect x="349" y="524" width="4" height="20" fill="#009688"/><rect x="354" y="524" width="4" height="17" fill="#009688"/><rect x="359" y="524" width="4" height="14" fill="#009688"/><rect x="364" y="524" width="4" height="12" fill="#009688"/><rect x="370" y="524" width="4" height="10" fill="#009688"/><rect x="375" y="524" width="4" height="11" fill="#f44336"/><rect x="380" y="524" width="4" height="12" fill="#f44336"/><rect x="385" y="524" width="4" height="12" fill="#f44336"/><rect x="390" y="524" width="4" height="15" fill="#f44336"/><rect x="395" y="524" width="4" height="16" fill="#f44336"/><rect x="400" y="524" width="4" height="14" fill="#009688"/><rect x="405" y="524" width="4" height="11" fill="#009688"/><rect x="410" y="524" width="4" height="8" fill="#009688"/><rect x="415" y="524" width="4" height="6" fill="#009688"/><rect x="420" y="524" width="4" height="3" fill="#009688"/><rect x="425" y="521" width="4" height="4" fill="#009688"/><rect x="430" y="516" width="4" height="9" fill="#009688"/><rect x="435" y="507" width="4" height="18" fill="#009688"/><rect x="440" y="495" width="4" height="30" fill="#009688"/><rect x="445" y="480" width="4" height="45" fill="#009688"/><rect x="450" y="469" width="4" height="56" fill="#009688"/><rect x="455" y="465" width="4" height="60" fill="#009688"/><rect x="460" y="464" width="4" height="61" fill="#009688"/><rect x="465" y="469" width="4" height="56" fill="#f44336"/><rect x="470" y="478" width="4" height="47" fill="#f44336"/><rect x="475" y="487" width="4" height="38" fill="#f44336"/><rect x="480" y="489" width="4" height="36" fill="#f44336"/><rect x="485" y="493" width="4" height="32" fill="#f44336"/><rect x="490" y="498" width="4" height="27" fill="#f44336"/><rect x="495" y="504" width="4" height="21" fill="#f44336"/><rect x="500" y="508" width="4" height="17" fill="#f44336"/><rect x="505" y="515" width="4" height="10" fill="#f44336"/><rect x="510" y="521" width="4" height="4" fill="#f44336"/><rect x="515" y="524" width="4" height="2" fill="#f44336"/><rect x="521" y="524" width="4" height="2" fill="#f44336"/><rect x="526" y="524" width="4" height="4" fill="#f44336"/><rect x="531" y="524" width="4" height="7" fill="#f44336"/><rect x="536" y="524" width="4" height="7" fill="#f44336"/><rect x="541" y="524" width="4" height="7" fill="#009688"/><rect x="546" y="524" width="4" height="10" fill="#f44336"/><rect x="551" y="524" width="4" height="12" fill="#f44336"/><rect x="556" y="524" width="4" height="16" fill="#f44336"/><rect x="561" y="524" width="4" height="27" fill="#f44336"/><rect x="566" y="524" width="4" height="38" fill="#f44336"/><rect x="571" y="524" width="4" height="44" fill="#f44336"/><rect x="576" y="524" width="4" height="47" fill="#f44336"/><rect x="581" y="524" width="4" height="50" fill="#f44336"/><rect x="586" y="524" width="4" height="47" fill="#009688"/><rect x="591" y="524" width="4" height="43" fill="#009688"/><rect x="596" y="524" width="4" height="42" fill="#009688"/><rect x="601" y="524" width="4" height="43" fill="#f44336"/><rect x="606" y="524" width="4" height="43" fill="#009688"/><rect x="611" y="524" width="4" height="40" fill="#009688"/><rect x="616" y="524" width="4" height="40" fill="#009688"/><rect x="621" y="524" width="4" height="40" fill="#f44336"/><rect x="626" y="524" width="4" height="40" fill="#009688"/><rect x="631" y="524" width="4" height="38" fill="#009688"/><rect x="636" y="524" width="4" height="36" fill="#009688"/><rect x="641" y="524" width="4" height="32" fill="#009688"/><rect x="646" y="524" width="4" height="26" fill="#009688"/><rect x="651" y="524" width="4" height="19" fill="#009688"/><rect x="656" y="524" width="4" height="12" fill="#009688"/><rect x="661" y="524" width="4" height="8" fill="#009688"/><rect x="666" y="524" width="4" height="6" fill="#009688"/><rect x="672" y="524" width="4" height="7" fill="#f44336"/><rect x="677" y="524" width="4" height="7" fill="#f44336"/><rect x="682" y="524" width="4" height="8" fill="#f44336"/><rect x="687" y="524" width="4" height="7" fill="#009688"/><rect x="692" y="524" width="4" height="7" fill="#009688"/><rect x="697" y="524" width="4" height="5" fill="#009688"/><rect x="702" y="524" width="4" height="3" fill="#009688"/><rect x="707" y="524" width="4" height="2" fill="#009688"/><rect x="712" y="523" width="4" height="2" fill="#009688"/><rect x="717" y="522" width="4" height="3" fill="#009688"/><rect x="722" y="523" width="4" height="2" fill="#f44336"/><rect x="727" y="524" width="4" height="1" fill="#f44336"/><rect x="732" y="524" width="4" height="4" fill="#f44336"/><rect x="737" y="524" width="4" height="6" fill="#f44336"/><rect x="742" y="524" width="4" height="9" fill="#f44336"/><rect x="747" y="524" width="4" height="10" fill="#f44336"/><rect x="752" y="524" width="4" height="10" fill="#009688"/><rect x="757" y="524" width="4" height="10" fill="#f44336"/><rect x="762" y="524" width="4" height="11" fill="#f44336"/><rect x="767" y="524" width="4" height="11" fill="#f44336"/><rect x="772" y="524" width="4" height="12" fill="#f44336"/><rect x="777" y="524" width="4" height="13" fill="#f44336"/><rect x="782" y="524" width="4" height="14" fill="#f44336"/><rect x="787" y="524" width="4" height="14" fill="#009688"/><rect x="792" y="524" width="4" height="13" fill="#009688"/><rect x="797" y="524" width="4" height="13" fill="#009688"/><rect x="802" y="524" width="4" height="12" fill="#009688"/><rect x="807" y="524" width="4" height="12" fill="#009688"/><rect x="812" y="524" width="4" height="11" fill="#009688"/><rect x="817" y="524" width="4" height="8" fill="#009688"/><rect x="823" y="524" width="4" height="5" fill="#009688"/><rect x="828" y="524" width="4" height="1" fill="#009688"/><rect x="833" y="523" width="4" height="2" fill="#009688"/><rect x="838" y="522" width="4" height="3" fill="#009688"/><rect x="843" y="524" width="4" height="1" fill="#f44336"/><rect x="848" y="524" width="4" height="6" fill="#f44336"/><rect x="853" y="524" width="4" height="9" fill="#f44336"/><rect x="858" y="524" width="4" height="12" fill="#f44336"/><rect x="863" y="524" width="4" height="13" fill="#f44336"/><rect x="868" y="524" width="4" height="13" fill="#f44336"/><rect x="873" y="524" width="4" height="11" fill="#009688"/><rect x="878" y="524" width="4" height="9" fill="#009688"/><rect x="883" y="524" width="4" height="8" fill="#009688"/><rect x="888" y="524" width="4" height="6" fill="#009688"/><rect x="893" y="524" width="4" height="5" fill="#009688"/><rect x="898" y="524" width="4" height="5" fill="#f44336"/><rect x="903" y="524" width="4" height="6" fill="#f44336"/><rect x="908" y="524" width="4" height="6" fill="#f44336"/><rect x="913" y="524" width="4" height="6" fill="#009688"/><rect x="918" y="524" width="4" height="5" fill="#009688"/><rect x="923" y="524" width="4" height="5" fill="#009688"/><rect x="928" y="524" width="4" height="3" fill="#009688"/><rect x="933" y="524" width="4" height="2" fill="#009688"/><rect x="938" y="524" width="4" height="3" fill="#f44336"/><rect x="943" y="524" width="4" height="4" fill="#f44336"/><rect x="948" y="524" width="4" height="5" fill="#f44336"/><rect x="953" y="524" width="4" height="7" fill="#f44336"/><rect x="958" y="524" width="4" height="9" fill="#f44336"/><rect x="963" y="524" width="4" height="12" fill="#f44336"/><rect x="968" y="524" width="4" height="13" fill="#f44336"/><rect x="974" y="524" width="4" height="15" fill="#f44336"/><rect x="979" y="524" width="4" height="16" fill="#f44336"/><rect x="984" y="524" width="4" height="17" fill="#f44336"/><rect x="989" y="524" width="4" height="15" fill="#009688"/><rect x="994" y="524" width="4" height="14" fill="#009688"/><rect x="999" y="524" width="4" height="12" fill="#009688"/><rect x="1004" y="524" width="4" height="11" fill="#009688"/><rect x="1009" y="524" width="4" height="10" fill="#009688"/><rect x="1014" y="524" width="4" height="10" fill="#009688"/><rect x="1019" y="524" width="4" height="10" fill="#f44336"/><rect x="1024" y="524" width="4" height="10" fill="#009688"/><rect x="1029" y="524" width="4" height="10" fill="#009688"/><rect x="1034" y="524" width="4" height="10" fill="#f44336"/><rect x="1039" y="524" width="4" height="11" fill="#f44336"/><rect x="1044" y="524" width="4" height="13" fill="#f44336"/><rect x="1049" y="524" width="4" height="15" fill="#f44336"/><rect x="1054" y="524" width="4" height="17" fill="#f44336"/><rect x="1059" y="524" width="4" height="18" fill="#f44336"/><rect x="1064" y="524" width="4" height="15" fill="#009688"/><rect x="1069" y="524" width="4" height="12" fill="#009688"/><rect x="1074" y="524" width="4" height="7" fill="#009688"/><rect x="1079" y="524" width="4" height="2" fill="#009688"/><rect x="1084" y="522" width="4" height="3" fill="#009688"/><rect x="1089" y="521" width="4" height="4" fill="#009688"/><rect x="1094" y="518" width="4" height="7" fill="#009688"/><rect x="1099" y="517" width="4" height="8" fill="#009688"/><rect x="1104" y="515" width="4" height="10" fill="#009688"/><rect x="1109" y="512" width="4" height="13" fill="#009688"/><rect x="1114" y="508" width="4" height="17" fill="#009688"/><rect x="1119" y="503" width="4" height="22" fill="#009688"/><rect x="1125" y="500" width="4" height="25" fill="#009688"/><rect x="1130" y="499" width="4" height="26" fill="#009688"/><rect x="1135" y="498" width="4" height="27" fill="#009688"/><rect x="1140" y="500" width="4" height="25" fill="#f44336"/><rect x="1145" y="502" width="4" height="23" fill="#f44336"/><rect x="1150" y="501" width="4" height="24" fill="#009688"/><rect x="1155" y="498" width="4" height="27" fill="#009688"/><rect x="1160" y="494" width="4" height="31" fill="#009688"/><rect x="1165" y="491" width="4" height="34" fill="#009688"/><rect x="1170" y="489" width="4" height="36" fill="#009688"/><rect x="1175" y="490" width="4" height="35" fill="#f44336"/><rect x="1180" y="492" width="4" height="33" fill="#f44336"/><rect x="1185" y="496" width="4" height="29" fill="#f44336"/><rect x="1190" y="500" width="4" height="25" fill="#f44336"/><rect x="1195" y="503" width="4" height="22" fill="#f44336"/><rect x="1200" y="505" width="4" height="20" fill="#f44336"/><rect x="1205" y="507" width="4" height="18" fill="#f44336"/><rect x="1210" y="508" width="4" height="17" fill="#f44336"/><rect x="1215" y="508" width="4" height="17" fill="#f44336"/><rect x="1220" y="510" width="4" height="15" fill="#f44336"/><rect x="1225" y="512" width="4" height="13" fill="#f44336"/><rect x="1230" y="513" width="4" height="12" fill="#f44336"/><rect x="1235" y="513" width="4" height="12" fill="#009688"/><rect x="1240" y="513" width="4" height="12" fill="#f44336"/><rect x="1245" y="512" width="4" height="13" fill="#009688"/><rect x="1250" y="512" width="4" height="13" fill="#009688"/><rect x="1255" y="511" width="4" height="14" fill="#009688"/><rect x="1260" y="513" width="4" height="12" fill="#f44336"/><rect x="1265" y="514" width="4" height="11" fill="#f44336"/><rect x="1270" y="516" width="4" height="9" fill="#f44336"/><rect x="1276" y="515" width="4" height="10" fill="#009688"/><rect x="1281" y="517" width="4" height="8" fill="#f44336"/><rect x="1286" y="520" width="4" height="5" fill="#f44336"/><rect x="1291" y="522" width="4" height="3" fill="#f44336"/><rect x="1296" y="524" width="4" height="3" fill="#f44336"/><rect x="1301" y="524" width="4" height="8" fill="#f44336"/><rect x="1306" y="524" width="4" height="12" fill="#f44336"/><rect x="1311" y="524" width="4" height="13" fill="#f44336"/><rect x="1316" y="524" width="4" height="15" fill="#f44336"/><rect x="1321" y="524" width="4" height="16" fill="#f44336"/><rect x="1326" y="524" width="4" height="16" fill="#f44336"/></g><rect x="15" y="88" width="1" height="30" fill="#ef5350" fill-opacity="0.6"/><text x="15.1" y="28.8" font-size="17.7" fill="#d1d4dc" textLength="92.41" lengthAdjust="spacingAndGlyphs" stroke="#d1d4dc" stroke-width="0.55">anushsamal</text><text x="113.0" y="28.8" font-size="17.7" fill="#d1d4dc" textLength="77.24" lengthAdjust="spacingAndGlyphs" stroke="#d1d4dc" stroke-width="0.55">published</text><text x="195.7" y="28.8" font-size="17.7" fill="#d1d4dc" textLength="19.81" lengthAdjust="spacingAndGlyphs" stroke="#d1d4dc" stroke-width="0.55">on</text><text x="220.6" y="28.8" font-size="17.7" fill="#d1d4dc" textLength="140.81" lengthAdjust="spacingAndGlyphs" stroke="#d1d4dc" stroke-width="0.55">TradingView.com,</text><text x="368.0" y="28.8" font-size="17.7" fill="#d1d4dc" textLength="29.62" lengthAdjust="spacingAndGlyphs" stroke="#d1d4dc" stroke-width="0.55">Dec</text><text x="404.0" y="28.8" font-size="17.7" fill="#d1d4dc" textLength="25.46" lengthAdjust="spacingAndGlyphs" stroke="#d1d4dc" stroke-width="0.55">29,</text><text x="434.8" y="28.8" font-size="17.7" fill="#d1d4dc" textLength="36.42" lengthAdjust="spacingAndGlyphs" stroke="#d1d4dc" stroke-width="0.55">2021</text><text x="477.5" y="28.8" font-size="17.7" fill="#d1d4dc" textLength="44.02" lengthAdjust="spacingAndGlyphs" stroke="#d1d4dc" stroke-width="0.55">13:18</text><text x="526.5" y="28.8" font-size="17.7" fill="#d1d4dc" textLength="33.25" lengthAdjust="spacingAndGlyphs" stroke="#d1d4dc" stroke-width="0.55">UTC</text><text x="27.2" y="69.7" font-size="17.5" fill="#b2b5be" textLength="34.81" lengthAdjust="spacingAndGlyphs" stroke="#b2b5be" stroke-width="0.45">SHIB</text><text x="69.3" y="69.7" font-size="17.5" fill="#b2b5be" textLength="4.87" lengthAdjust="spacingAndGlyphs" stroke="#b2b5be" stroke-width="0.45">/</text><text x="82.3" y="69.7" font-size="17.5" fill="#b2b5be" textLength="47.51" lengthAdjust="spacingAndGlyphs" stroke="#b2b5be" stroke-width="0.45">BUSD,</text><text x="136.5" y="69.7" font-size="17.5" fill="#b2b5be" textLength="25.69" lengthAdjust="spacingAndGlyphs" stroke="#b2b5be" stroke-width="0.45">4h,</text><text x="168.0" y="69.7" font-size="17.5" fill="#b2b5be" textLength="68.83" lengthAdjust="spacingAndGlyphs" stroke="#b2b5be" stroke-width="0.45">BINANCE</text><text x="247.7" y="69.7" font-size="17.5" fill="#b2b5be" stroke="#b2b5be" stroke-width="0.45">O</text><text x="260.6" y="69.7" font-size="17.5" fill="#ef5350" stroke="#ef5350" stroke-width="0.45" textLength="89.6" lengthAdjust="spacingAndGlyphs">0.00003532</text><text x="363" y="69.7" font-size="17.5" fill="#b2b5be" stroke="#b2b5be" stroke-width="0.45">H</text><text x="374.5" y="69.7" font-size="17.5" fill="#ef5350" stroke="#ef5350" stroke-width="0.45" textLength="90" lengthAdjust="spacingAndGlyphs">0.00003535</text><text x="477" y="69.7" font-size="17.5" fill="#b2b5be" stroke="#b2b5be" stroke-width="0.45">L</text><text x="486.3" y="69.7" font-size="17.5" fill="#ef5350" stroke="#ef5350" stroke-width="0.45" textLength="90.4" lengthAdjust="spacingAndGlyphs">0.00003416</text><text x="588.2" y="69.7" font-size="17.5" fill="#b2b5be" stroke="#b2b5be" stroke-width="0.45">C</text><text x="598.8" y="69.7" font-size="17.5" fill="#ef5350" stroke="#ef5350" stroke-width="0.45" textLength="90.9" lengthAdjust="spacingAndGlyphs">0.00003416</text><text x="702.6" y="69.7" font-size="17.5" fill="#ef5350" textLength="98.8" lengthAdjust="spacingAndGlyphs" stroke="#ef5350" stroke-width="0.45">−0.00000118</text><text x="807.2" y="69.7" font-size="17.5" fill="#ef5350" textLength="68.83" lengthAdjust="spacingAndGlyphs" stroke="#ef5350" stroke-width="0.45">(−3.34%)</text><text x="27.0" y="95.6" font-size="17.5" fill="#b2b5be" textLength="117.6" lengthAdjust="spacingAndGlyphs" stroke="#b2b5be" stroke-width="0.45">20-50-200-SMA</text><text x="151.0" y="95.6" font-size="17.5" fill="#b2b5be" textLength="53.3" lengthAdjust="spacingAndGlyphs" stroke="#b2b5be" stroke-width="0.45">(close,</text><text x="210.3" y="95.6" font-size="17.5" fill="#b2b5be" textLength="23.86" lengthAdjust="spacingAndGlyphs" stroke="#b2b5be" stroke-width="0.45">20,</text><text x="241.6" y="95.6" font-size="17.5" fill="#b2b5be" textLength="23.43" lengthAdjust="spacingAndGlyphs" stroke="#b2b5be" stroke-width="0.45">50,</text><text x="271.8" y="95.6" font-size="17.5" fill="#b2b5be" textLength="34.81" lengthAdjust="spacingAndGlyphs" stroke="#b2b5be" stroke-width="0.45">200)</text><text x="318.4" y="95.6" font-size="17.5" fill="#ff0000" stroke="#ff0000" stroke-width="0.45" textLength="89.8" lengthAdjust="spacingAndGlyphs">0.00003709</text><text x="420.3" y="95.6" font-size="17.5" fill="#ffff99" textLength="91.4" lengthAdjust="spacingAndGlyphs" font-weight="bold">0.00003654</text><text x="523.2" y="95.6" font-size="17.5" fill="#00ff00" stroke="#00ff00" stroke-width="0.45" textLength="90.5" lengthAdjust="spacingAndGlyphs">0.00003660</text><text x="26.6" y="342" font-size="17.5" fill="#b2b5be" textLength="24.55" lengthAdjust="spacingAndGlyphs" stroke="#b2b5be" stroke-width="0.45">RSI</text><text x="56.5" y="342" font-size="17.5" fill="#b2b5be" textLength="31.15" lengthAdjust="spacingAndGlyphs" stroke="#b2b5be" stroke-width="0.45">(14,</text><text x="94.5" y="342" font-size="17.5" fill="#b2b5be" textLength="47.85" lengthAdjust="spacingAndGlyphs" stroke="#b2b5be" stroke-width="0.45">close,</text><text x="147.7" y="342" font-size="17.5" fill="#b2b5be" textLength="38.62" lengthAdjust="spacingAndGlyphs" stroke="#b2b5be" stroke-width="0.45">SMA,</text><text x="191.9" y="342" font-size="17.5" fill="#b2b5be" textLength="24.0" lengthAdjust="spacingAndGlyphs" stroke="#b2b5be" stroke-width="0.45">14,</text><text x="222.7" y="342" font-size="17.5" fill="#b2b5be" textLength="15.04" lengthAdjust="spacingAndGlyphs" stroke="#b2b5be" stroke-width="0.45">2)</text><text x="249.9" y="342" font-size="17.5" fill="#7e57c2" stroke="#7e57c2" stroke-width="0.45" textLength="42" lengthAdjust="spacingAndGlyphs">35.62</text><text x="304.3" y="342" font-size="17.5" fill="#ffeb3b" textLength="43.7" lengthAdjust="spacingAndGlyphs" font-weight="bold">47.58</text><text x="359.8" y="342" font-size="17.5" fill="#b2b5be" stroke="#b2b5be" stroke-width="0.45" textLength="28" lengthAdjust="spacingAndGlyphs">n/a</text><text x="399.7" y="342" font-size="17.5" fill="#b2b5be" stroke="#b2b5be" stroke-width="0.45" textLength="27.5" lengthAdjust="spacingAndGlyphs">n/a</text><text x="26.8" y="480.2" font-size="17.5" fill="#b2b5be" stroke="#b2b5be" stroke-width="0.45" textLength="22.2" lengthAdjust="spacingAndGlyphs">AO</text><text x="61.1" y="480.2" font-size="17.5" fill="#f44336" stroke="#f44336" stroke-width="0.45" textLength="98.5" lengthAdjust="spacingAndGlyphs">−0.00000201</text><text x="1358" y="121.6" font-size="17.5" fill="#b2b5be" stroke="#b2b5be" stroke-width="0.45" textLength="89.6" lengthAdjust="spacingAndGlyphs">0.00005000</text><rect x="1382.5" y="50.5" width="51" height="28" rx="4" fill="none" stroke="#363a45" stroke-width="1"/><text x="1387.5" y="69.8" font-size="17.5" fill="#b2b5be" stroke="#b2b5be" stroke-width="0.45" textLength="41" lengthAdjust="spacingAndGlyphs">BUSD</text><path d="M1342 145 H1456 a3 3 0 0 1 3 3 V169 a3 3 0 0 1 -3 3 H1342 Z" fill="#00bcd4"/><text x="1358.6" y="164" font-size="17.5" fill="#000" stroke="#000" stroke-width="0.45" textLength="90.4" lengthAdjust="spacingAndGlyphs">0.00004470</text><path d="M1342 178 H1456 a3 3 0 0 1 3 3 V229 H1342 Z" fill="#00bcd4"/><text x="1358.6" y="197.4" font-size="17.5" fill="#000" stroke="#000" stroke-width="0.45" textLength="90.4" lengthAdjust="spacingAndGlyphs">0.00003980</text><text x="1358.6" y="222" font-size="17.5" fill="#000" stroke="#000" stroke-width="0.45" textLength="90.4" lengthAdjust="spacingAndGlyphs">0.00003509</text><path d="M1342 229 H1456 a3 3 0 0 1 3 3 V274 a3 3 0 0 1 -3 3 H1342 Z" fill="#ef5350"/><text x="1357.9" y="248.5" font-size="17.5" fill="#fff" textLength="91.4" lengthAdjust="spacingAndGlyphs" font-weight="bold">0.00003416</text><text x="1357.9" y="269.7" font-size="17.5" fill="#f9d2d1" textLength="69" lengthAdjust="spacingAndGlyphs" font-weight="bold">02:41:33</text><path d="M1342 277 H1459 V300 a3 3 0 0 1 -3 3 H1342 Z" fill="#00bcd4"/><text x="1358.6" y="295.5" font-size="17.5" fill="#000" stroke="#000" stroke-width="0.45" textLength="90.4" lengthAdjust="spacingAndGlyphs">0.00002830</text><text x="1357.5" y="342" font-size="17.5" fill="#b2b5be" stroke="#b2b5be" stroke-width="0.45" textLength="43.7" lengthAdjust="spacingAndGlyphs">75.00</text><text x="1357.5" y="390.8" font-size="17.5" fill="#b2b5be" stroke="#b2b5be" stroke-width="0.45" textLength="43.7" lengthAdjust="spacingAndGlyphs">50.00</text><text x="1357.5" y="438.6" font-size="17.5" fill="#b2b5be" stroke="#b2b5be" stroke-width="0.45" textLength="43.7" lengthAdjust="spacingAndGlyphs">25.00</text><svg x="1342" y="451" width="131" height="134" overflow="hidden"><text x="15" y="7.2" font-size="17.5" fill="#b2b5be" stroke="#b2b5be" stroke-width="0.45" textLength="91" lengthAdjust="spacingAndGlyphs">0.00001000</text></svg><text x="1357" y="530.4" font-size="17.5" fill="#b2b5be" stroke="#b2b5be" stroke-width="0.45" textLength="91" lengthAdjust="spacingAndGlyphs">0.00000000</text><text x="186.1" y="613" font-size="17.5" fill="#b2b5be" stroke="#b2b5be" stroke-width="0.45" textLength="18.3" lengthAdjust="spacingAndGlyphs">22</text><text x="306.9" y="613" font-size="17.5" fill="#b2b5be" stroke="#b2b5be" stroke-width="0.45" textLength="18.3" lengthAdjust="spacingAndGlyphs">26</text><text x="452.6" y="613" font-size="17.5" fill="#b2b5be" textLength="29.4" lengthAdjust="spacingAndGlyphs" font-weight="bold">Dec</text><text x="613.5" y="613" font-size="17.5" fill="#b2b5be" stroke="#b2b5be" stroke-width="0.45" textLength="9.1" lengthAdjust="spacingAndGlyphs">6</text><text x="821.4" y="613" font-size="17.5" fill="#b2b5be" stroke="#b2b5be" stroke-width="0.45" textLength="17.2" lengthAdjust="spacingAndGlyphs">13</text><text x="1031.8" y="613" font-size="17.5" fill="#b2b5be" stroke="#b2b5be" stroke-width="0.45" textLength="18.7" lengthAdjust="spacingAndGlyphs">20</text><text x="1242.9" y="613" font-size="17.5" fill="#b2b5be" stroke="#b2b5be" stroke-width="0.45" textLength="18.9" lengthAdjust="spacingAndGlyphs">27</text><path d="M14.8 644.9 H27 V659.9 H20.6 V650.8 H14.8 Z" fill="#d1d4dc"/><circle cx="31.6" cy="648.5" r="3.35" fill="#d1d4dc"/><path d="M37.4 644.9 H44.65 L39.4 659.9 H31.9 Z" fill="#d1d4dc"/><text x="49.8" y="661" font-size="19.6" fill="#d1d4dc" textLength="105.8" lengthAdjust="spacingAndGlyphs" stroke="#d1d4dc" stroke-width="0.55">TradingView</text>
</svg>
</body></html>
